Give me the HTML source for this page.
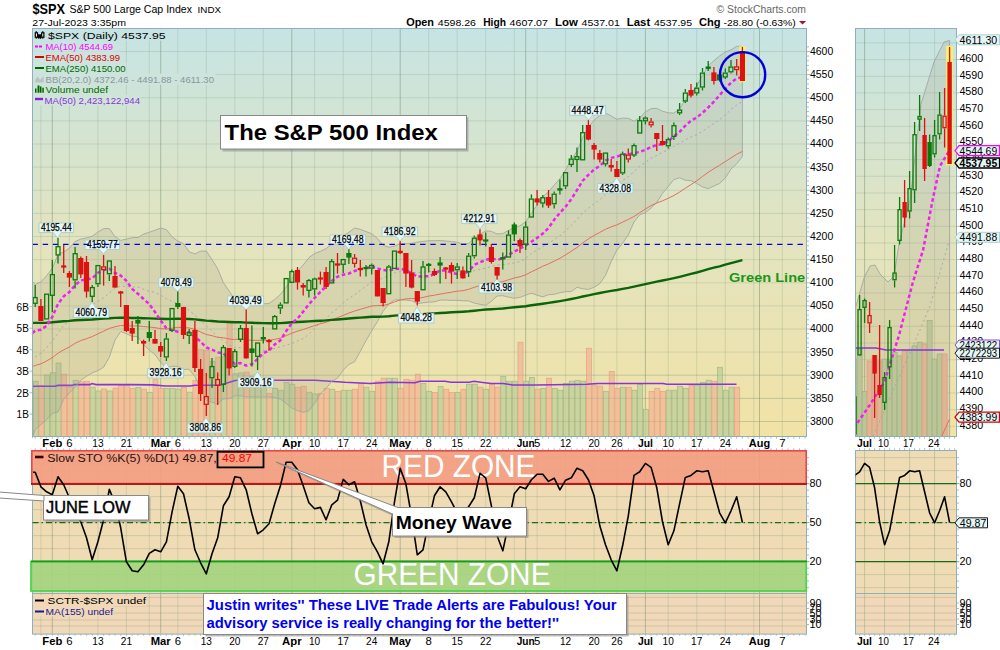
<!DOCTYPE html>
<html><head><meta charset="utf-8"><style>
html,body{margin:0;padding:0;background:#fff;width:1000px;height:650px;overflow:hidden}
svg{display:block;font-family:"Liberation Sans", sans-serif}
</style></head><body>
<svg width="1000" height="650" viewBox="0 0 1000 650">
<defs>
<linearGradient id="gmain" x1="0" y1="0" x2="0" y2="1">
<stop offset="0" stop-color="#c6e4e4"/><stop offset="0.5" stop-color="#e2e4c0"/><stop offset="1" stop-color="#f2e2a6"/>
</linearGradient>
<linearGradient id="gmainU" gradientUnits="userSpaceOnUse" x1="0" y1="28.5" x2="0" y2="436.5">
<stop offset="0" stop-color="#c6e4e4"/><stop offset="0.5" stop-color="#e2e4c0"/><stop offset="1" stop-color="#f2e2a6"/>
</linearGradient>
</defs>
<text x="32.5" y="13.7" font-size="14.5" font-weight="bold" textLength="32.5" lengthAdjust="spacingAndGlyphs">$SPX</text>
<text x="69.5" y="13.2" font-size="11" textLength="122.5" lengthAdjust="spacingAndGlyphs">S&amp;P 500 Large Cap Index</text>
<text x="197.6" y="13.2" font-size="9" textLength="23.4" lengthAdjust="spacingAndGlyphs">INDX</text>
<text x="32.3" y="26.3" font-size="9.6" textLength="93.7" lengthAdjust="spacingAndGlyphs">27-Jul-2023 3:35pm</text>
<text x="716.6" y="13.2" font-size="10" fill="#666" textLength="89.4" lengthAdjust="spacingAndGlyphs">© StockCharts.com</text>
<text x="406.2" y="25.5" font-size="10.2" font-weight="bold" textLength="27.8" lengthAdjust="spacingAndGlyphs">Open</text>
<text x="437.8" y="25.5" font-size="9.6" textLength="38.2" lengthAdjust="spacingAndGlyphs">4598.26</text>
<text x="483.2" y="25.5" font-size="10.2" font-weight="bold" textLength="22.8" lengthAdjust="spacingAndGlyphs">High</text>
<text x="509.6" y="25.5" font-size="9.6" textLength="38.3" lengthAdjust="spacingAndGlyphs">4607.07</text>
<text x="555" y="25.5" font-size="10.2" font-weight="bold" textLength="22.8" lengthAdjust="spacingAndGlyphs">Low</text>
<text x="581.5" y="25.5" font-size="9.6" textLength="38.3" lengthAdjust="spacingAndGlyphs">4537.01</text>
<text x="626.8" y="25.5" font-size="10.2" font-weight="bold" textLength="23.4" lengthAdjust="spacingAndGlyphs">Last</text>
<text x="654" y="25.5" font-size="9.6" textLength="38" lengthAdjust="spacingAndGlyphs">4537.95</text>
<text x="699" y="25.5" font-size="10.2" font-weight="bold" textLength="21.6" lengthAdjust="spacingAndGlyphs">Chg</text>
<text x="723.6" y="25.5" font-size="9.6" textLength="72.2" lengthAdjust="spacingAndGlyphs">-28.80 (-0.63%)</text>
<polygon points="799,21 806,21 802.5,24.5" fill="#a0103a"/>
<rect x="32.5" y="28.5" width="774.0" height="408.0" fill="url(#gmain)"/>
<line x1="32.5" y1="421.5" x2="806.5" y2="421.5" stroke="#7f9f7f" stroke-opacity="0.26"/>
<line x1="32.5" y1="398.4" x2="806.5" y2="398.4" stroke="#7f9f7f" stroke-opacity="0.26"/>
<line x1="32.5" y1="375.2" x2="806.5" y2="375.2" stroke="#7f9f7f" stroke-opacity="0.26"/>
<line x1="32.5" y1="352.1" x2="806.5" y2="352.1" stroke="#7f9f7f" stroke-opacity="0.26"/>
<line x1="32.5" y1="329.0" x2="806.5" y2="329.0" stroke="#7f9f7f" stroke-opacity="0.26"/>
<line x1="32.5" y1="305.9" x2="806.5" y2="305.9" stroke="#7f9f7f" stroke-opacity="0.26"/>
<line x1="32.5" y1="282.8" x2="806.5" y2="282.8" stroke="#7f9f7f" stroke-opacity="0.26"/>
<line x1="32.5" y1="259.6" x2="806.5" y2="259.6" stroke="#7f9f7f" stroke-opacity="0.26"/>
<line x1="32.5" y1="236.5" x2="806.5" y2="236.5" stroke="#7f9f7f" stroke-opacity="0.26"/>
<line x1="32.5" y1="213.4" x2="806.5" y2="213.4" stroke="#7f9f7f" stroke-opacity="0.26"/>
<line x1="32.5" y1="190.2" x2="806.5" y2="190.2" stroke="#7f9f7f" stroke-opacity="0.26"/>
<line x1="32.5" y1="167.1" x2="806.5" y2="167.1" stroke="#7f9f7f" stroke-opacity="0.26"/>
<line x1="32.5" y1="144.0" x2="806.5" y2="144.0" stroke="#7f9f7f" stroke-opacity="0.26"/>
<line x1="32.5" y1="120.9" x2="806.5" y2="120.9" stroke="#7f9f7f" stroke-opacity="0.26"/>
<line x1="32.5" y1="97.8" x2="806.5" y2="97.8" stroke="#7f9f7f" stroke-opacity="0.26"/>
<line x1="32.5" y1="74.6" x2="806.5" y2="74.6" stroke="#7f9f7f" stroke-opacity="0.26"/>
<line x1="32.5" y1="51.5" x2="806.5" y2="51.5" stroke="#7f9f7f" stroke-opacity="0.26"/>
<line x1="40.9" y1="28.5" x2="40.9" y2="436.5" stroke="#7f9f7f" stroke-opacity="0.26"/>
<line x1="69.4" y1="28.5" x2="69.4" y2="436.5" stroke="#7f9f7f" stroke-opacity="0.26"/>
<line x1="97.9" y1="28.5" x2="97.9" y2="436.5" stroke="#7f9f7f" stroke-opacity="0.26"/>
<line x1="126.4" y1="28.5" x2="126.4" y2="436.5" stroke="#7f9f7f" stroke-opacity="0.26"/>
<line x1="149.3" y1="28.5" x2="149.3" y2="436.5" stroke="#7f9f7f" stroke-opacity="0.26"/>
<line x1="177.8" y1="28.5" x2="177.8" y2="436.5" stroke="#7f9f7f" stroke-opacity="0.26"/>
<line x1="206.3" y1="28.5" x2="206.3" y2="436.5" stroke="#7f9f7f" stroke-opacity="0.26"/>
<line x1="234.8" y1="28.5" x2="234.8" y2="436.5" stroke="#7f9f7f" stroke-opacity="0.26"/>
<line x1="263.3" y1="28.5" x2="263.3" y2="436.5" stroke="#7f9f7f" stroke-opacity="0.26"/>
<line x1="314.6" y1="28.5" x2="314.6" y2="436.5" stroke="#7f9f7f" stroke-opacity="0.26"/>
<line x1="343.2" y1="28.5" x2="343.2" y2="436.5" stroke="#7f9f7f" stroke-opacity="0.26"/>
<line x1="371.7" y1="28.5" x2="371.7" y2="436.5" stroke="#7f9f7f" stroke-opacity="0.26"/>
<line x1="428.7" y1="28.5" x2="428.7" y2="436.5" stroke="#7f9f7f" stroke-opacity="0.26"/>
<line x1="457.2" y1="28.5" x2="457.2" y2="436.5" stroke="#7f9f7f" stroke-opacity="0.26"/>
<line x1="485.7" y1="28.5" x2="485.7" y2="436.5" stroke="#7f9f7f" stroke-opacity="0.26"/>
<line x1="514.3" y1="28.5" x2="514.3" y2="436.5" stroke="#7f9f7f" stroke-opacity="0.26"/>
<line x1="537.1" y1="28.5" x2="537.1" y2="436.5" stroke="#7f9f7f" stroke-opacity="0.26"/>
<line x1="565.6" y1="28.5" x2="565.6" y2="436.5" stroke="#7f9f7f" stroke-opacity="0.26"/>
<line x1="594.1" y1="28.5" x2="594.1" y2="436.5" stroke="#7f9f7f" stroke-opacity="0.26"/>
<line x1="616.9" y1="28.5" x2="616.9" y2="436.5" stroke="#7f9f7f" stroke-opacity="0.26"/>
<line x1="668.2" y1="28.5" x2="668.2" y2="436.5" stroke="#7f9f7f" stroke-opacity="0.26"/>
<line x1="696.7" y1="28.5" x2="696.7" y2="436.5" stroke="#7f9f7f" stroke-opacity="0.26"/>
<line x1="725.3" y1="28.5" x2="725.3" y2="436.5" stroke="#7f9f7f" stroke-opacity="0.26"/>
<line x1="753.8" y1="28.5" x2="753.8" y2="436.5" stroke="#7f9f7f" stroke-opacity="0.26"/>
<line x1="782.3" y1="28.5" x2="782.3" y2="436.5" stroke="#7f9f7f" stroke-opacity="0.26"/>
<line x1="52.3" y1="28.5" x2="52.3" y2="436.5" stroke="#5f7f5f" stroke-opacity="0.42"/>
<line x1="160.7" y1="28.5" x2="160.7" y2="436.5" stroke="#5f7f5f" stroke-opacity="0.42"/>
<line x1="291.8" y1="28.5" x2="291.8" y2="436.5" stroke="#5f7f5f" stroke-opacity="0.42"/>
<line x1="400.2" y1="28.5" x2="400.2" y2="436.5" stroke="#5f7f5f" stroke-opacity="0.42"/>
<line x1="525.7" y1="28.5" x2="525.7" y2="436.5" stroke="#5f7f5f" stroke-opacity="0.42"/>
<line x1="645.4" y1="28.5" x2="645.4" y2="436.5" stroke="#5f7f5f" stroke-opacity="0.42"/>
<line x1="759.5" y1="28.5" x2="759.5" y2="436.5" stroke="#5f7f5f" stroke-opacity="0.42"/>
<rect x="33.2" y="381.2" width="5.0" height="55.3" fill="#c4d09c" fill-opacity="0.85" stroke="#a0b880" stroke-width="0.7"/>
<rect x="38.9" y="385.4" width="5.0" height="51.1" fill="#f0bc98" fill-opacity="0.85" stroke="#e8a080" stroke-width="0.7"/>
<rect x="44.6" y="375.0" width="5.0" height="61.5" fill="#c4d09c" fill-opacity="0.85" stroke="#a0b880" stroke-width="0.7"/>
<rect x="50.3" y="372.8" width="5.0" height="63.7" fill="#c4d09c" fill-opacity="0.85" stroke="#a0b880" stroke-width="0.7"/>
<rect x="56.0" y="363.0" width="5.0" height="73.5" fill="#c4d09c" fill-opacity="0.85" stroke="#a0b880" stroke-width="0.7"/>
<rect x="61.7" y="374.2" width="5.0" height="62.3" fill="#f0bc98" fill-opacity="0.85" stroke="#e8a080" stroke-width="0.7"/>
<rect x="67.4" y="387.0" width="5.0" height="49.5" fill="#f0bc98" fill-opacity="0.85" stroke="#e8a080" stroke-width="0.7"/>
<rect x="73.1" y="380.3" width="5.0" height="56.2" fill="#c4d09c" fill-opacity="0.85" stroke="#a0b880" stroke-width="0.7"/>
<rect x="78.8" y="381.8" width="5.0" height="54.7" fill="#f0bc98" fill-opacity="0.85" stroke="#e8a080" stroke-width="0.7"/>
<rect x="84.5" y="381.2" width="5.0" height="55.3" fill="#f0bc98" fill-opacity="0.85" stroke="#e8a080" stroke-width="0.7"/>
<rect x="90.2" y="387.2" width="5.0" height="49.3" fill="#c4d09c" fill-opacity="0.85" stroke="#a0b880" stroke-width="0.7"/>
<rect x="95.9" y="391.0" width="5.0" height="45.5" fill="#c4d09c" fill-opacity="0.85" stroke="#a0b880" stroke-width="0.7"/>
<rect x="101.6" y="389.0" width="5.0" height="47.5" fill="#f0bc98" fill-opacity="0.85" stroke="#e8a080" stroke-width="0.7"/>
<rect x="107.3" y="391.0" width="5.0" height="45.5" fill="#c4d09c" fill-opacity="0.85" stroke="#a0b880" stroke-width="0.7"/>
<rect x="113.0" y="388.0" width="5.0" height="48.5" fill="#f0bc98" fill-opacity="0.85" stroke="#e8a080" stroke-width="0.7"/>
<rect x="118.7" y="385.0" width="5.0" height="51.5" fill="#f0bc98" fill-opacity="0.85" stroke="#e8a080" stroke-width="0.7"/>
<rect x="124.4" y="385.5" width="5.0" height="51.0" fill="#f0bc98" fill-opacity="0.85" stroke="#e8a080" stroke-width="0.7"/>
<rect x="130.2" y="388.4" width="5.0" height="48.1" fill="#f0bc98" fill-opacity="0.85" stroke="#e8a080" stroke-width="0.7"/>
<rect x="135.9" y="387.6" width="5.0" height="48.9" fill="#c4d09c" fill-opacity="0.85" stroke="#a0b880" stroke-width="0.7"/>
<rect x="141.6" y="389.1" width="5.0" height="47.4" fill="#f0bc98" fill-opacity="0.85" stroke="#e8a080" stroke-width="0.7"/>
<rect x="147.3" y="392.3" width="5.0" height="44.2" fill="#c4d09c" fill-opacity="0.85" stroke="#a0b880" stroke-width="0.7"/>
<rect x="153.0" y="379.2" width="5.0" height="57.3" fill="#f0bc98" fill-opacity="0.85" stroke="#e8a080" stroke-width="0.7"/>
<rect x="158.7" y="388.4" width="5.0" height="48.1" fill="#f0bc98" fill-opacity="0.85" stroke="#e8a080" stroke-width="0.7"/>
<rect x="164.4" y="388.4" width="5.0" height="48.1" fill="#c4d09c" fill-opacity="0.85" stroke="#a0b880" stroke-width="0.7"/>
<rect x="170.1" y="388.4" width="5.0" height="48.1" fill="#c4d09c" fill-opacity="0.85" stroke="#a0b880" stroke-width="0.7"/>
<rect x="175.8" y="389.1" width="5.0" height="47.4" fill="#c4d09c" fill-opacity="0.85" stroke="#a0b880" stroke-width="0.7"/>
<rect x="181.5" y="387.6" width="5.0" height="48.9" fill="#f0bc98" fill-opacity="0.85" stroke="#e8a080" stroke-width="0.7"/>
<rect x="187.2" y="392.2" width="5.0" height="44.3" fill="#c4d09c" fill-opacity="0.85" stroke="#a0b880" stroke-width="0.7"/>
<rect x="192.9" y="380.2" width="5.0" height="56.3" fill="#f0bc98" fill-opacity="0.85" stroke="#e8a080" stroke-width="0.7"/>
<rect x="198.6" y="349.8" width="5.0" height="86.7" fill="#f0bc98" fill-opacity="0.85" stroke="#e8a080" stroke-width="0.7"/>
<rect x="204.3" y="350.6" width="5.0" height="85.9" fill="#f0bc98" fill-opacity="0.85" stroke="#e8a080" stroke-width="0.7"/>
<rect x="210.0" y="361.3" width="5.0" height="75.2" fill="#c4d09c" fill-opacity="0.85" stroke="#a0b880" stroke-width="0.7"/>
<rect x="215.7" y="357.2" width="5.0" height="79.3" fill="#f0bc98" fill-opacity="0.85" stroke="#e8a080" stroke-width="0.7"/>
<rect x="221.4" y="356.8" width="5.0" height="79.7" fill="#c4d09c" fill-opacity="0.85" stroke="#a0b880" stroke-width="0.7"/>
<rect x="227.1" y="323.0" width="5.0" height="113.5" fill="#f0bc98" fill-opacity="0.85" stroke="#e8a080" stroke-width="0.7"/>
<rect x="232.8" y="373.8" width="5.0" height="62.7" fill="#c4d09c" fill-opacity="0.85" stroke="#a0b880" stroke-width="0.7"/>
<rect x="238.5" y="372.9" width="5.0" height="63.6" fill="#c4d09c" fill-opacity="0.85" stroke="#a0b880" stroke-width="0.7"/>
<rect x="244.2" y="372.0" width="5.0" height="64.5" fill="#f0bc98" fill-opacity="0.85" stroke="#e8a080" stroke-width="0.7"/>
<rect x="249.9" y="376.3" width="5.0" height="60.2" fill="#c4d09c" fill-opacity="0.85" stroke="#a0b880" stroke-width="0.7"/>
<rect x="255.6" y="374.6" width="5.0" height="61.9" fill="#c4d09c" fill-opacity="0.85" stroke="#a0b880" stroke-width="0.7"/>
<rect x="261.3" y="378.0" width="5.0" height="58.5" fill="#c4d09c" fill-opacity="0.85" stroke="#a0b880" stroke-width="0.7"/>
<rect x="267.0" y="393.3" width="5.0" height="43.2" fill="#f0bc98" fill-opacity="0.85" stroke="#e8a080" stroke-width="0.7"/>
<rect x="272.7" y="388.3" width="5.0" height="48.2" fill="#c4d09c" fill-opacity="0.85" stroke="#a0b880" stroke-width="0.7"/>
<rect x="278.4" y="390.2" width="5.0" height="46.3" fill="#c4d09c" fill-opacity="0.85" stroke="#a0b880" stroke-width="0.7"/>
<rect x="284.1" y="382.3" width="5.0" height="54.2" fill="#c4d09c" fill-opacity="0.85" stroke="#a0b880" stroke-width="0.7"/>
<rect x="289.8" y="384.2" width="5.0" height="52.3" fill="#c4d09c" fill-opacity="0.85" stroke="#a0b880" stroke-width="0.7"/>
<rect x="295.5" y="387.2" width="5.0" height="49.3" fill="#f0bc98" fill-opacity="0.85" stroke="#e8a080" stroke-width="0.7"/>
<rect x="301.2" y="386.2" width="5.0" height="50.3" fill="#f0bc98" fill-opacity="0.85" stroke="#e8a080" stroke-width="0.7"/>
<rect x="306.9" y="392.2" width="5.0" height="44.3" fill="#c4d09c" fill-opacity="0.85" stroke="#a0b880" stroke-width="0.7"/>
<rect x="312.6" y="394.0" width="5.0" height="42.5" fill="#c4d09c" fill-opacity="0.85" stroke="#a0b880" stroke-width="0.7"/>
<rect x="318.4" y="393.3" width="5.0" height="43.2" fill="#f0bc98" fill-opacity="0.85" stroke="#e8a080" stroke-width="0.7"/>
<rect x="324.1" y="388.3" width="5.0" height="48.2" fill="#f0bc98" fill-opacity="0.85" stroke="#e8a080" stroke-width="0.7"/>
<rect x="329.8" y="389.2" width="5.0" height="47.3" fill="#c4d09c" fill-opacity="0.85" stroke="#a0b880" stroke-width="0.7"/>
<rect x="335.5" y="391.3" width="5.0" height="45.2" fill="#f0bc98" fill-opacity="0.85" stroke="#e8a080" stroke-width="0.7"/>
<rect x="341.2" y="390.2" width="5.0" height="46.3" fill="#c4d09c" fill-opacity="0.85" stroke="#a0b880" stroke-width="0.7"/>
<rect x="346.9" y="390.2" width="5.0" height="46.3" fill="#c4d09c" fill-opacity="0.85" stroke="#a0b880" stroke-width="0.7"/>
<rect x="352.6" y="389.2" width="5.0" height="47.3" fill="#f0bc98" fill-opacity="0.85" stroke="#e8a080" stroke-width="0.7"/>
<rect x="358.3" y="383.5" width="5.0" height="53.0" fill="#f0bc98" fill-opacity="0.85" stroke="#e8a080" stroke-width="0.7"/>
<rect x="364.0" y="387.2" width="5.0" height="49.3" fill="#c4d09c" fill-opacity="0.85" stroke="#a0b880" stroke-width="0.7"/>
<rect x="369.7" y="391.3" width="5.0" height="45.2" fill="#c4d09c" fill-opacity="0.85" stroke="#a0b880" stroke-width="0.7"/>
<rect x="375.4" y="381.2" width="5.0" height="55.3" fill="#f0bc98" fill-opacity="0.85" stroke="#e8a080" stroke-width="0.7"/>
<rect x="381.1" y="378.2" width="5.0" height="58.3" fill="#f0bc98" fill-opacity="0.85" stroke="#e8a080" stroke-width="0.7"/>
<rect x="386.8" y="378.2" width="5.0" height="58.3" fill="#c4d09c" fill-opacity="0.85" stroke="#a0b880" stroke-width="0.7"/>
<rect x="392.5" y="378.2" width="5.0" height="58.3" fill="#c4d09c" fill-opacity="0.85" stroke="#a0b880" stroke-width="0.7"/>
<rect x="398.2" y="388.3" width="5.0" height="48.2" fill="#f0bc98" fill-opacity="0.85" stroke="#e8a080" stroke-width="0.7"/>
<rect x="403.9" y="379.3" width="5.0" height="57.2" fill="#f0bc98" fill-opacity="0.85" stroke="#e8a080" stroke-width="0.7"/>
<rect x="409.6" y="380.2" width="5.0" height="56.3" fill="#f0bc98" fill-opacity="0.85" stroke="#e8a080" stroke-width="0.7"/>
<rect x="415.3" y="374.2" width="5.0" height="62.3" fill="#f0bc98" fill-opacity="0.85" stroke="#e8a080" stroke-width="0.7"/>
<rect x="421.0" y="383.5" width="5.0" height="53.0" fill="#c4d09c" fill-opacity="0.85" stroke="#a0b880" stroke-width="0.7"/>
<rect x="426.7" y="391.3" width="5.0" height="45.2" fill="#c4d09c" fill-opacity="0.85" stroke="#a0b880" stroke-width="0.7"/>
<rect x="432.4" y="392.5" width="5.0" height="44.0" fill="#f0bc98" fill-opacity="0.85" stroke="#e8a080" stroke-width="0.7"/>
<rect x="438.1" y="386.5" width="5.0" height="50.0" fill="#c4d09c" fill-opacity="0.85" stroke="#a0b880" stroke-width="0.7"/>
<rect x="443.8" y="389.2" width="5.0" height="47.3" fill="#f0bc98" fill-opacity="0.85" stroke="#e8a080" stroke-width="0.7"/>
<rect x="449.5" y="392.5" width="5.0" height="44.0" fill="#f0bc98" fill-opacity="0.85" stroke="#e8a080" stroke-width="0.7"/>
<rect x="455.2" y="392.5" width="5.0" height="44.0" fill="#c4d09c" fill-opacity="0.85" stroke="#a0b880" stroke-width="0.7"/>
<rect x="460.9" y="389.2" width="5.0" height="47.3" fill="#f0bc98" fill-opacity="0.85" stroke="#e8a080" stroke-width="0.7"/>
<rect x="466.6" y="384.2" width="5.0" height="52.3" fill="#c4d09c" fill-opacity="0.85" stroke="#a0b880" stroke-width="0.7"/>
<rect x="472.3" y="384.2" width="5.0" height="52.3" fill="#c4d09c" fill-opacity="0.85" stroke="#a0b880" stroke-width="0.7"/>
<rect x="478.0" y="387.2" width="5.0" height="49.3" fill="#f0bc98" fill-opacity="0.85" stroke="#e8a080" stroke-width="0.7"/>
<rect x="483.7" y="389.2" width="5.0" height="47.3" fill="#c4d09c" fill-opacity="0.85" stroke="#a0b880" stroke-width="0.7"/>
<rect x="489.4" y="384.2" width="5.0" height="52.3" fill="#f0bc98" fill-opacity="0.85" stroke="#e8a080" stroke-width="0.7"/>
<rect x="495.1" y="387.2" width="5.0" height="49.3" fill="#f0bc98" fill-opacity="0.85" stroke="#e8a080" stroke-width="0.7"/>
<rect x="500.8" y="376.3" width="5.0" height="60.2" fill="#c4d09c" fill-opacity="0.85" stroke="#a0b880" stroke-width="0.7"/>
<rect x="506.5" y="381.2" width="5.0" height="55.3" fill="#c4d09c" fill-opacity="0.85" stroke="#a0b880" stroke-width="0.7"/>
<rect x="512.3" y="381.2" width="5.0" height="55.3" fill="#c4d09c" fill-opacity="0.85" stroke="#a0b880" stroke-width="0.7"/>
<rect x="518.0" y="342.2" width="5.0" height="94.3" fill="#f0bc98" fill-opacity="0.85" stroke="#e8a080" stroke-width="0.7"/>
<rect x="523.7" y="381.2" width="5.0" height="55.3" fill="#c4d09c" fill-opacity="0.85" stroke="#a0b880" stroke-width="0.7"/>
<rect x="529.4" y="377.5" width="5.0" height="59.0" fill="#c4d09c" fill-opacity="0.85" stroke="#a0b880" stroke-width="0.7"/>
<rect x="535.1" y="389.2" width="5.0" height="47.3" fill="#f0bc98" fill-opacity="0.85" stroke="#e8a080" stroke-width="0.7"/>
<rect x="540.8" y="388.3" width="5.0" height="48.2" fill="#c4d09c" fill-opacity="0.85" stroke="#a0b880" stroke-width="0.7"/>
<rect x="546.5" y="378.2" width="5.0" height="58.3" fill="#f0bc98" fill-opacity="0.85" stroke="#e8a080" stroke-width="0.7"/>
<rect x="552.2" y="388.3" width="5.0" height="48.2" fill="#c4d09c" fill-opacity="0.85" stroke="#a0b880" stroke-width="0.7"/>
<rect x="557.9" y="390.2" width="5.0" height="46.3" fill="#c4d09c" fill-opacity="0.85" stroke="#a0b880" stroke-width="0.7"/>
<rect x="563.6" y="383.5" width="5.0" height="53.0" fill="#c4d09c" fill-opacity="0.85" stroke="#a0b880" stroke-width="0.7"/>
<rect x="569.3" y="381.2" width="5.0" height="55.3" fill="#c4d09c" fill-opacity="0.85" stroke="#a0b880" stroke-width="0.7"/>
<rect x="575.0" y="380.5" width="5.0" height="56.0" fill="#c4d09c" fill-opacity="0.85" stroke="#a0b880" stroke-width="0.7"/>
<rect x="580.7" y="381.2" width="5.0" height="55.3" fill="#c4d09c" fill-opacity="0.85" stroke="#a0b880" stroke-width="0.7"/>
<rect x="586.4" y="348.2" width="5.0" height="88.3" fill="#f0bc98" fill-opacity="0.85" stroke="#e8a080" stroke-width="0.7"/>
<rect x="592.1" y="385.0" width="5.0" height="51.5" fill="#f0bc98" fill-opacity="0.85" stroke="#e8a080" stroke-width="0.7"/>
<rect x="597.8" y="386.2" width="5.0" height="50.3" fill="#f0bc98" fill-opacity="0.85" stroke="#e8a080" stroke-width="0.7"/>
<rect x="603.5" y="391.3" width="5.0" height="45.2" fill="#c4d09c" fill-opacity="0.85" stroke="#a0b880" stroke-width="0.7"/>
<rect x="609.2" y="371.5" width="5.0" height="65.0" fill="#f0bc98" fill-opacity="0.85" stroke="#e8a080" stroke-width="0.7"/>
<rect x="614.9" y="388.3" width="5.0" height="48.2" fill="#f0bc98" fill-opacity="0.85" stroke="#e8a080" stroke-width="0.7"/>
<rect x="620.6" y="387.2" width="5.0" height="49.3" fill="#c4d09c" fill-opacity="0.85" stroke="#a0b880" stroke-width="0.7"/>
<rect x="626.3" y="387.2" width="5.0" height="49.3" fill="#f0bc98" fill-opacity="0.85" stroke="#e8a080" stroke-width="0.7"/>
<rect x="632.0" y="390.2" width="5.0" height="46.3" fill="#c4d09c" fill-opacity="0.85" stroke="#a0b880" stroke-width="0.7"/>
<rect x="637.7" y="384.2" width="5.0" height="52.3" fill="#c4d09c" fill-opacity="0.85" stroke="#a0b880" stroke-width="0.7"/>
<rect x="643.4" y="409.3" width="5.0" height="27.2" fill="#c4d09c" fill-opacity="0.85" stroke="#a0b880" stroke-width="0.7"/>
<rect x="649.1" y="391.3" width="5.0" height="45.2" fill="#f0bc98" fill-opacity="0.85" stroke="#e8a080" stroke-width="0.7"/>
<rect x="654.8" y="388.3" width="5.0" height="48.2" fill="#f0bc98" fill-opacity="0.85" stroke="#e8a080" stroke-width="0.7"/>
<rect x="660.5" y="391.3" width="5.0" height="45.2" fill="#f0bc98" fill-opacity="0.85" stroke="#e8a080" stroke-width="0.7"/>
<rect x="666.2" y="390.2" width="5.0" height="46.3" fill="#c4d09c" fill-opacity="0.85" stroke="#a0b880" stroke-width="0.7"/>
<rect x="671.9" y="390.2" width="5.0" height="46.3" fill="#c4d09c" fill-opacity="0.85" stroke="#a0b880" stroke-width="0.7"/>
<rect x="677.6" y="386.2" width="5.0" height="50.3" fill="#c4d09c" fill-opacity="0.85" stroke="#a0b880" stroke-width="0.7"/>
<rect x="683.3" y="388.3" width="5.0" height="48.2" fill="#c4d09c" fill-opacity="0.85" stroke="#a0b880" stroke-width="0.7"/>
<rect x="689.0" y="385.3" width="5.0" height="51.2" fill="#f0bc98" fill-opacity="0.85" stroke="#e8a080" stroke-width="0.7"/>
<rect x="694.7" y="385.0" width="5.0" height="51.5" fill="#c4d09c" fill-opacity="0.85" stroke="#a0b880" stroke-width="0.7"/>
<rect x="700.5" y="382.3" width="5.0" height="54.2" fill="#c4d09c" fill-opacity="0.85" stroke="#a0b880" stroke-width="0.7"/>
<rect x="706.2" y="380.2" width="5.0" height="56.3" fill="#c4d09c" fill-opacity="0.85" stroke="#a0b880" stroke-width="0.7"/>
<rect x="711.9" y="381.2" width="5.0" height="55.3" fill="#f0bc98" fill-opacity="0.85" stroke="#e8a080" stroke-width="0.7"/>
<rect x="717.6" y="367.3" width="5.0" height="69.2" fill="#c4d09c" fill-opacity="0.85" stroke="#a0b880" stroke-width="0.7"/>
<rect x="723.3" y="390.2" width="5.0" height="46.3" fill="#c4d09c" fill-opacity="0.85" stroke="#a0b880" stroke-width="0.7"/>
<rect x="729.0" y="387.2" width="5.0" height="49.3" fill="#c4d09c" fill-opacity="0.85" stroke="#a0b880" stroke-width="0.7"/>
<rect x="734.7" y="387.2" width="5.0" height="49.3" fill="#f0bc98" fill-opacity="0.85" stroke="#e8a080" stroke-width="0.7"/>
<line x1="32.5" y1="421.5" x2="806.5" y2="421.5" stroke="#7f9f7f" stroke-opacity="0.2"/>
<line x1="32.5" y1="398.4" x2="806.5" y2="398.4" stroke="#7f9f7f" stroke-opacity="0.2"/>
<line x1="32.5" y1="375.2" x2="806.5" y2="375.2" stroke="#7f9f7f" stroke-opacity="0.2"/>
<polyline points="33,386.2 55,386.2 58,385.4 72,385.4 74,384.6 90,384.6 92,383.5 96,384.6 130,384.6 153,384.9 165,386 190,386 195,385.2 220,385.2 235,380.5 240,380.2 315,380.2 330,381.2 345,382.3 370,383.5 390,382.3 415,382.7 420,381.2 445,381.2 451,382.3 469,382.3 474,381.2 481,382.3 491,383.5 503,383.5 513,385 536,385 587,384.2 597,383.5 663,383.5 667,384.2 736.5,384.2" fill="none" stroke="#8833dd" stroke-width="1.6"/>
<polygon points="32.5,281.6 35.2,284.6 40.9,281.8 46.6,275.7 52.3,268.2 58.0,254.5 63.7,252.0 69.4,248.2 75.1,241.5 80.8,239.1 86.5,237.9 92.2,236.3 97.9,232.0 103.6,228.7 109.3,228.5 115.0,236.7 120.7,240.4 126.4,239.1 132.2,237.7 137.9,237.5 143.6,234.1 149.3,232.2 155.0,230.3 160.7,228.1 166.4,229.6 172.1,236.9 177.8,241.1 183.5,243.7 189.2,251.8 194.9,253.9 200.6,251.2 206.3,251.0 212.0,259.6 217.7,268.8 223.4,282.7 229.1,291.0 234.8,299.7 240.5,299.4 246.2,300.8 251.9,303.7 257.6,303.6 263.3,303.8 269.0,303.5 274.7,299.4 280.4,294.5 286.1,287.2 291.8,278.9 297.5,271.0 303.2,265.0 308.9,257.7 314.6,253.4 320.4,251.3 326.1,248.6 331.8,244.2 337.5,238.9 343.2,235.9 348.9,232.3 354.6,228.0 360.3,229.3 366.0,231.6 371.7,233.7 377.4,238.5 383.1,245.2 388.8,247.3 394.5,246.0 400.2,243.5 405.9,243.7 411.6,243.4 417.3,242.1 423.0,241.4 428.7,240.7 434.4,240.7 440.1,240.4 445.8,241.0 451.5,241.5 457.2,242.3 462.9,243.9 468.6,243.6 474.3,238.3 480.0,234.4 485.7,230.8 491.4,231.4 497.1,234.0 502.8,233.5 508.5,230.5 514.3,227.5 520.0,225.8 525.7,221.7 531.4,213.4 537.1,205.0 542.8,196.6 548.5,191.8 554.2,185.0 559.9,178.8 565.6,169.9 571.3,159.2 577.0,151.4 582.7,137.5 588.4,127.1 594.1,120.1 599.8,115.7 605.5,113.0 611.2,116.0 616.9,119.3 622.6,118.1 628.3,118.3 634.0,121.3 639.7,117.8 645.4,111.9 651.1,108.6 656.8,108.4 662.5,111.2 668.2,112.8 673.9,113.1 679.6,108.7 685.3,99.7 691.0,93.1 696.7,85.9 702.5,75.6 708.2,65.9 713.9,60.7 719.6,55.9 725.3,52.0 731.0,49.9 736.7,46.3 742.4,46.4 742.4,156.4 736.7,163.8 731.0,169.0 725.3,178.0 719.6,183.5 713.9,186.0 708.2,188.6 702.5,187.0 696.7,183.5 691.0,180.7 685.3,180.2 679.6,177.8 673.9,179.6 668.2,186.5 662.5,193.5 656.8,202.4 651.1,208.0 645.4,212.7 639.7,214.8 634.0,221.9 628.3,235.0 622.6,243.2 616.9,250.1 611.2,261.6 605.5,275.4 599.8,283.6 594.1,287.3 588.4,289.4 582.7,288.8 577.0,287.3 571.3,291.6 565.6,291.7 559.9,292.8 554.2,294.3 548.5,294.7 542.8,296.9 537.1,295.2 531.4,293.2 525.7,295.2 520.0,297.3 514.3,298.3 508.5,297.1 502.8,295.7 497.1,296.0 491.4,301.3 485.7,305.3 480.0,304.3 474.3,303.1 468.6,300.9 462.9,300.8 457.2,300.3 451.5,300.4 445.8,300.1 440.1,300.1 434.4,301.9 428.7,302.2 423.0,302.8 417.3,303.6 411.6,300.8 405.9,300.1 400.2,299.9 394.5,299.9 388.8,304.1 383.1,311.2 377.4,321.7 371.7,330.8 366.0,340.6 360.3,351.4 354.6,361.7 348.9,364.5 343.2,370.1 337.5,378.1 331.8,381.1 326.1,388.5 320.4,393.8 314.6,403.4 308.9,410.7 303.2,412.2 297.5,410.7 291.8,408.1 286.1,403.4 280.4,399.1 274.7,397.4 269.0,396.9 263.3,397.0 257.6,397.0 251.9,397.0 246.2,396.9 240.5,395.9 234.8,395.8 229.1,398.6 223.4,398.9 217.7,404.2 212.0,402.1 206.3,400.6 200.6,389.5 194.9,376.6 189.2,369.3 183.5,369.4 177.8,366.3 172.1,366.3 166.4,367.5 160.7,362.5 155.0,354.5 149.3,350.3 143.6,344.4 137.9,336.7 132.2,336.4 126.4,333.8 120.7,331.5 115.0,340.1 109.3,357.2 103.6,367.2 97.9,370.6 92.2,372.9 86.5,376.3 80.8,380.3 75.1,387.1 69.4,393.0 63.7,399.3 58.0,412.0 52.3,413.4 46.6,419.6 40.9,424.6 35.2,429.5 32.5,437.5" fill="#9a9c88" fill-opacity="0.2" stroke="#a0a8a0" stroke-width="0.9"/>
<polyline points="35.2,357.1 40.9,353.2 46.6,347.7 52.3,340.8 58.0,333.2 63.7,325.6 69.4,320.6 75.1,314.3 80.8,309.7 86.5,307.1 92.2,304.6 97.9,301.3 103.6,298.0 109.3,292.9 115.0,288.4 120.7,285.9 126.4,286.5 132.2,287.0 137.9,287.1 143.6,289.2 149.3,291.3 155.0,292.4 160.7,295.3 166.4,298.5 172.1,301.6 177.8,303.7 183.5,306.6 189.2,310.6 194.9,315.2 200.6,320.4 206.3,325.8 212.0,330.9 217.7,336.5 223.4,340.8 229.1,344.8 234.8,347.8 240.5,347.6 246.2,348.9 251.9,350.4 257.6,350.3 263.3,350.4 269.0,350.2 274.7,348.4 280.4,346.8 286.1,345.3 291.8,343.5 297.5,340.9 303.2,338.6 308.9,334.2 314.6,328.4 320.4,322.5 326.1,318.6 331.8,312.7 337.5,308.5 343.2,303.0 348.9,298.4 354.6,294.9 360.3,290.4 366.0,286.1 371.7,282.2 377.4,280.1 383.1,278.2 388.8,275.7 394.5,273.0 400.2,271.7 405.9,271.9 411.6,272.1 417.3,272.8 423.0,272.1 428.7,271.4 434.4,271.3 440.1,270.2 445.8,270.6 451.5,270.9 457.2,271.3 462.9,272.4 468.6,272.3 474.3,270.7 480.0,269.4 485.7,268.1 491.4,266.4 497.1,265.0 502.8,264.6 508.5,263.8 514.3,262.9 520.0,261.5 525.7,258.5 531.4,253.3 537.1,250.1 542.8,246.7 548.5,243.3 554.2,239.7 559.9,235.8 565.6,230.8 571.3,225.4 577.0,219.3 582.7,213.2 588.4,208.2 594.1,203.7 599.8,199.7 605.5,194.2 611.2,188.8 616.9,184.7 622.6,180.7 628.3,176.7 634.0,171.6 639.7,166.3 645.4,162.3 651.1,158.3 656.8,155.4 662.5,152.3 668.2,149.6 673.9,146.3 679.6,143.3 685.3,140.0 691.0,136.9 696.7,134.7 702.5,131.3 708.2,127.3 713.9,123.3 719.6,119.7 725.3,115.0 731.0,109.4 736.7,105.1 742.4,101.4" fill="none" stroke="#a8a8a8" stroke-width="1" stroke-dasharray="2,3"/>
<polyline points="32.5,366.5 35.2,365.5 40.9,363.8 46.6,361.0 52.3,357.6 58.0,353.2 63.7,349.8 69.4,347.0 75.1,343.3 80.8,340.6 86.5,338.7 92.2,336.6 97.9,333.8 103.6,331.2 109.3,328.4 115.0,326.8 120.7,325.5 126.4,325.7 132.2,326.0 137.9,325.9 143.6,326.6 149.3,327.0 155.0,327.7 160.7,328.6 166.4,329.0 172.1,328.2 177.8,327.3 183.5,327.6 189.2,327.9 194.9,329.4 200.6,332.0 206.3,334.5 212.0,335.7 217.7,337.4 223.4,337.8 229.1,339.0 234.8,339.5 240.5,339.0 246.2,339.8 251.9,340.3 257.6,340.4 263.3,340.3 269.0,340.3 274.7,339.4 280.4,338.1 286.1,335.7 291.8,333.2 297.5,331.2 303.2,329.5 308.9,327.5 314.6,325.6 320.4,323.7 326.1,322.3 331.8,319.9 337.5,317.7 343.2,315.4 348.9,313.1 354.6,311.0 360.3,309.3 366.0,307.7 371.7,306.0 377.4,305.6 383.1,305.5 388.8,304.0 394.5,301.9 400.2,300.0 405.9,298.9 411.6,298.5 417.3,298.6 423.0,297.4 428.7,296.1 434.4,295.2 440.1,294.1 445.8,293.1 451.5,292.2 457.2,291.2 462.9,290.7 468.6,289.3 474.3,287.3 480.0,285.5 485.7,283.7 491.4,282.8 497.1,282.5 502.8,281.6 508.5,279.8 514.3,278.0 520.0,276.7 525.7,274.8 531.4,271.8 537.1,269.1 542.8,266.2 548.5,263.9 554.2,261.1 559.9,258.3 565.6,254.9 571.3,251.2 577.0,247.5 582.7,242.9 588.4,238.9 594.1,235.4 599.8,232.4 605.5,229.3 611.2,226.9 616.9,224.9 622.6,222.1 628.3,219.4 634.0,216.5 639.7,212.7 645.4,209.0 651.1,205.6 656.8,203.0 662.5,200.8 668.2,198.3 673.9,195.5 679.6,192.1 685.3,188.2 691.0,184.6 696.7,180.8 702.5,176.5 708.2,172.3 713.9,168.7 719.6,165.2 725.3,161.6 731.0,157.9 736.7,154.3 742.4,151.4" fill="none" stroke="#e07060" stroke-width="1"/>
<polyline points="32.5,322.9 35.2,322.9 40.9,322.9 46.6,322.7 52.3,322.3 58.0,321.7 63.7,321.2 69.4,320.9 75.1,320.3 80.8,320.0 86.5,319.7 92.2,319.5 97.9,319.1 103.6,318.6 109.3,318.2 115.0,317.9 120.7,317.7 126.4,317.8 132.2,318.0 137.9,318.0 143.6,318.2 149.3,318.4 155.0,318.6 160.7,318.8 166.4,319.0 172.1,318.9 177.8,318.8 183.5,318.9 189.2,319.0 194.9,319.4 200.6,320.0 206.3,320.6 212.0,321.0 217.7,321.5 223.4,321.7 229.1,322.0 234.8,322.3 240.5,322.3 246.2,322.6 251.9,322.8 257.6,323.0 263.3,323.1 269.0,323.3 274.7,323.2 280.4,323.1 286.1,322.7 291.8,322.3 297.5,322.0 303.2,321.7 308.9,321.4 314.6,321.0 320.4,320.7 326.1,320.4 331.8,319.9 337.5,319.5 343.2,319.0 348.9,318.5 354.6,318.0 360.3,317.6 366.0,317.2 371.7,316.8 377.4,316.7 383.1,316.6 388.8,316.2 394.5,315.6 400.2,315.1 405.9,314.8 411.6,314.6 417.3,314.5 423.0,314.1 428.7,313.7 434.4,313.4 440.1,313.0 445.8,312.7 451.5,312.3 457.2,312.0 462.9,311.7 468.6,311.3 474.3,310.7 480.0,310.1 485.7,309.5 491.4,309.2 497.1,308.9 502.8,308.5 508.5,307.9 514.3,307.3 520.0,306.8 525.7,306.2 531.4,305.3 537.1,304.5 542.8,303.7 548.5,302.9 554.2,302.0 559.9,301.1 565.6,300.1 571.3,299.0 577.0,297.8 582.7,296.5 588.4,295.3 594.1,294.1 599.8,293.0 605.5,291.9 611.2,290.9 616.9,290.0 622.6,288.9 628.3,287.9 634.0,286.7 639.7,285.4 645.4,284.1 651.1,282.8 656.8,281.6 662.5,280.5 668.2,279.4 673.9,278.2 679.6,276.8 685.3,275.4 691.0,273.9 696.7,272.5 702.5,270.9 708.2,269.2 713.9,267.7 719.6,266.3 725.3,264.7 731.0,263.1 736.7,261.6 742.4,260.1" fill="none" stroke="#0a640a" stroke-width="2.4"/>
<rect x="739" y="46.4" width="6.8" height="35.8" fill="#f8f070"/>
<polyline points="32.5,333.2 35.2,330.7 40.9,329.8 46.6,325.8 52.3,317.0 58.0,303.9 63.7,296.3 69.4,292.0 75.1,285.2 80.8,280.4 86.5,279.4 92.2,278.4 97.9,272.8 103.6,270.1 109.3,268.8 115.0,272.9 120.7,275.5 126.4,280.9 132.2,288.9 137.9,293.8 143.6,299.0 149.3,304.1 155.0,312.0 160.7,320.5 166.4,328.3 172.1,330.3 177.8,331.8 183.5,332.2 189.2,332.2 194.9,336.6 200.6,341.7 206.3,347.5 212.0,349.7 217.7,352.4 223.4,353.3 229.1,359.3 234.8,363.7 240.5,363.0 246.2,365.6 251.9,364.1 257.6,358.9 263.3,353.3 269.0,350.7 274.7,344.4 280.4,340.3 286.1,331.2 291.8,323.2 297.5,318.7 303.2,311.6 308.9,304.3 314.6,297.9 320.4,291.8 326.1,286.4 331.8,280.9 337.5,276.7 343.2,274.8 348.9,273.5 354.6,271.0 360.3,269.1 366.0,267.9 371.7,266.6 377.4,268.4 383.1,270.0 388.8,270.6 394.5,269.2 400.2,268.6 405.9,270.2 411.6,273.2 417.3,276.5 423.0,276.4 428.7,276.3 434.4,274.1 440.1,270.4 445.8,270.6 451.5,272.7 457.2,274.0 462.9,274.5 468.6,271.3 474.3,264.9 480.0,262.3 485.7,259.9 491.4,258.6 497.1,259.6 502.8,258.7 508.5,254.9 514.3,251.7 520.0,248.5 525.7,245.6 531.4,241.7 537.1,237.9 542.8,233.6 548.5,228.0 554.2,219.8 559.9,212.9 565.6,206.7 571.3,199.1 577.0,190.1 582.7,180.7 588.4,174.8 594.1,169.5 599.8,165.8 605.5,160.5 611.2,157.9 616.9,156.5 622.6,154.7 628.3,154.3 634.0,153.1 639.7,151.9 645.4,149.8 651.1,147.0 656.8,145.0 662.5,144.2 668.2,141.4 673.9,136.2 679.6,131.9 685.3,125.7 691.0,120.7 696.7,117.5 702.5,112.9 708.2,107.5 713.9,101.7 719.6,95.2 725.3,88.6 731.0,82.7 736.7,78.3 742.4,77.2" fill="none" stroke="#ee22ee" stroke-width="2.5" stroke-dasharray="3.6,2.6"/>
<path d="M39,223 H73.6 V232.5 H61.4 L57.4,238 L53.4,232.5 H39 Z" fill="#e4f6f6" stroke="#a8cccc" stroke-width="0.9"/>
<text x="56.3" y="230.9" font-size="10.5" text-anchor="middle" textLength="30.599999999999994" lengthAdjust="spacingAndGlyphs" stroke="#000" stroke-width="0.25">4195.44</text>
<path d="M85,240 H119.6 V249.5 H107.4 L103.4,254 L99.4,249.5 H85 Z" fill="#e4f6f6" stroke="#a8cccc" stroke-width="0.9"/>
<text x="102.3" y="247.9" font-size="10.5" text-anchor="middle" textLength="30.599999999999994" lengthAdjust="spacingAndGlyphs" stroke="#000" stroke-width="0.25">4159.77</text>
<path d="M73.6,317.5 H109 V308 H96 L92,302 L88,308 H73.6 Z" fill="#e4f6f6" stroke="#a8cccc" stroke-width="0.9"/>
<text x="91.3" y="315.9" font-size="10.5" text-anchor="middle" textLength="31.400000000000006" lengthAdjust="spacingAndGlyphs" stroke="#000" stroke-width="0.25">4060.79</text>
<path d="M158.7,277.8 H193.8 V287.2 H181.4 L177.4,291.5 L173.4,287.2 H158.7 Z" fill="#e4f6f6" stroke="#a8cccc" stroke-width="0.9"/>
<text x="176.25" y="285.59999999999997" font-size="10.5" text-anchor="middle" textLength="31.100000000000023" lengthAdjust="spacingAndGlyphs" stroke="#000" stroke-width="0.25">4078.49</text>
<path d="M147.6,378 H183.6 V368.5 H170 L166,362.5 L162,368.5 H147.6 Z" fill="#e4f6f6" stroke="#a8cccc" stroke-width="0.9"/>
<text x="165.6" y="376.4" font-size="10.5" text-anchor="middle" textLength="32.0" lengthAdjust="spacingAndGlyphs" stroke="#000" stroke-width="0.25">3928.16</text>
<path d="M227.6,296 H263.6 V305.6 H250 L246,310 L242,305.6 H227.6 Z" fill="#e4f6f6" stroke="#a8cccc" stroke-width="0.9"/>
<text x="245.60000000000002" y="304.0" font-size="10.5" text-anchor="middle" textLength="32.00000000000003" lengthAdjust="spacingAndGlyphs" stroke="#000" stroke-width="0.25">4039.49</text>
<path d="M238,387.4 H273.6 V377.6 H261.4 L257.4,371.5 L253.39999999999998,377.6 H238 Z" fill="#e4f6f6" stroke="#a8cccc" stroke-width="0.9"/>
<text x="255.8" y="385.79999999999995" font-size="10.5" text-anchor="middle" textLength="31.600000000000023" lengthAdjust="spacingAndGlyphs" stroke="#000" stroke-width="0.25">3909.16</text>
<path d="M187.6,433 H223 V423.6 H210 L206,417.5 L202,423.6 H187.6 Z" fill="#e4f6f6" stroke="#a8cccc" stroke-width="0.9"/>
<text x="205.3" y="431.4" font-size="10.5" text-anchor="middle" textLength="31.400000000000006" lengthAdjust="spacingAndGlyphs" stroke="#000" stroke-width="0.25">3808.86</text>
<path d="M330,235 H365.6 V244.4 H352.6 L348.6,249.5 L344.6,244.4 H330 Z" fill="#e4f6f6" stroke="#a8cccc" stroke-width="0.9"/>
<text x="347.8" y="242.8" font-size="10.5" text-anchor="middle" textLength="31.600000000000023" lengthAdjust="spacingAndGlyphs" stroke="#000" stroke-width="0.25">4169.48</text>
<path d="M382,227 H417.6 V236.4 H404 L400,241.5 L396,236.4 H382 Z" fill="#e4f6f6" stroke="#a8cccc" stroke-width="0.9"/>
<text x="399.8" y="234.8" font-size="10.5" text-anchor="middle" textLength="31.600000000000023" lengthAdjust="spacingAndGlyphs" stroke="#000" stroke-width="0.25">4186.92</text>
<path d="M398.4,323 H434 V313.5 H421 L417,306.5 L413,313.5 H398.4 Z" fill="#e4f6f6" stroke="#a8cccc" stroke-width="0.9"/>
<text x="416.2" y="321.4" font-size="10.5" text-anchor="middle" textLength="31.600000000000023" lengthAdjust="spacingAndGlyphs" stroke="#000" stroke-width="0.25">4048.28</text>
<path d="M461.6,214 H497 V223.6 H484 L480,229 L476,223.6 H461.6 Z" fill="#e4f6f6" stroke="#a8cccc" stroke-width="0.9"/>
<text x="479.3" y="222.0" font-size="10.5" text-anchor="middle" textLength="31.399999999999977" lengthAdjust="spacingAndGlyphs" stroke="#000" stroke-width="0.25">4212.91</text>
<path d="M479,293 H514 V283.5 H501 L497,279 L493,283.5 H479 Z" fill="#e4f6f6" stroke="#a8cccc" stroke-width="0.9"/>
<text x="496.5" y="291.4" font-size="10.5" text-anchor="middle" textLength="31" lengthAdjust="spacingAndGlyphs" stroke="#000" stroke-width="0.25">4103.98</text>
<path d="M569.6,105.6 H605.6 V115.4 H592.4 L588.4,120 L584.4,115.4 H569.6 Z" fill="#e4f6f6" stroke="#a8cccc" stroke-width="0.9"/>
<text x="587.6" y="113.80000000000001" font-size="10.5" text-anchor="middle" textLength="32.0" lengthAdjust="spacingAndGlyphs" stroke="#000" stroke-width="0.25">4448.47</text>
<path d="M597.6,193.2 H633 V183.5 H620.6 L616.6,177.5 L612.6,183.5 H597.6 Z" fill="#e4f6f6" stroke="#a8cccc" stroke-width="0.9"/>
<text x="615.3" y="191.6" font-size="10.5" text-anchor="middle" textLength="31.399999999999977" lengthAdjust="spacingAndGlyphs" stroke="#000" stroke-width="0.25">4328.08</text>
<line x1="32.5" y1="244.4" x2="806.5" y2="244.4" stroke="#0000e0" stroke-width="1.3" stroke-dasharray="5.4,4.8"/>
<line x1="35.2" y1="285.0" x2="35.2" y2="297.0" stroke="#0a7a0a" stroke-width="1.3"/>
<line x1="35.2" y1="304.0" x2="35.2" y2="307.0" stroke="#0a7a0a" stroke-width="1.3"/>
<rect x="33.2" y="297.6" width="3.9" height="5.7" fill="none" stroke="#0a7a0a" stroke-width="1.3"/>
<line x1="40.9" y1="299.0" x2="40.9" y2="321.0" stroke="#dd1111" stroke-width="1.3"/>
<rect x="38.3" y="306.0" width="5.2" height="15.0" fill="#dd1111"/>
<line x1="46.6" y1="293.6" x2="46.6" y2="293.6" stroke="#0a7a0a" stroke-width="1.3"/>
<line x1="46.6" y1="319.6" x2="46.6" y2="319.6" stroke="#0a7a0a" stroke-width="1.3"/>
<rect x="44.7" y="294.2" width="3.9" height="24.7" fill="none" stroke="#0a7a0a" stroke-width="1.3"/>
<line x1="52.3" y1="260.0" x2="52.3" y2="274.0" stroke="#0a7a0a" stroke-width="1.3"/>
<line x1="52.3" y1="296.0" x2="52.3" y2="312.0" stroke="#0a7a0a" stroke-width="1.3"/>
<rect x="50.4" y="274.6" width="3.9" height="20.7" fill="none" stroke="#0a7a0a" stroke-width="1.3"/>
<line x1="58.0" y1="238.0" x2="58.0" y2="246.0" stroke="#0a7a0a" stroke-width="1.3"/>
<line x1="58.0" y1="255.6" x2="58.0" y2="263.6" stroke="#0a7a0a" stroke-width="1.3"/>
<rect x="56.1" y="246.7" width="3.9" height="8.3" fill="none" stroke="#0a7a0a" stroke-width="1.3"/>
<line x1="63.7" y1="245.0" x2="63.7" y2="273.0" stroke="#dd1111" stroke-width="1.3"/>
<rect x="61.1" y="265.4" width="5.2" height="2.2" fill="#dd1111"/>
<line x1="69.4" y1="271.0" x2="69.4" y2="287.0" stroke="#dd1111" stroke-width="1.3"/>
<rect x="66.8" y="273.0" width="5.2" height="4.6" fill="#dd1111"/>
<line x1="75.1" y1="247.0" x2="75.1" y2="253.0" stroke="#0a7a0a" stroke-width="1.3"/>
<line x1="75.1" y1="280.4" x2="75.1" y2="288.4" stroke="#0a7a0a" stroke-width="1.3"/>
<rect x="73.2" y="253.7" width="3.9" height="26.1" fill="none" stroke="#0a7a0a" stroke-width="1.3"/>
<line x1="80.8" y1="256.4" x2="80.8" y2="278.0" stroke="#dd1111" stroke-width="1.3"/>
<rect x="78.2" y="258.0" width="5.2" height="16.4" fill="#dd1111"/>
<line x1="86.5" y1="256.0" x2="86.5" y2="297.6" stroke="#dd1111" stroke-width="1.3"/>
<rect x="83.9" y="262.0" width="5.2" height="29.6" fill="#dd1111"/>
<line x1="92.2" y1="285.0" x2="92.2" y2="287.0" stroke="#0a7a0a" stroke-width="1.3"/>
<line x1="92.2" y1="297.0" x2="92.2" y2="302.0" stroke="#0a7a0a" stroke-width="1.3"/>
<rect x="90.3" y="287.6" width="3.9" height="8.7" fill="none" stroke="#0a7a0a" stroke-width="1.3"/>
<line x1="97.9" y1="265.0" x2="97.9" y2="265.0" stroke="#0a7a0a" stroke-width="1.3"/>
<line x1="97.9" y1="284.4" x2="97.9" y2="287.0" stroke="#0a7a0a" stroke-width="1.3"/>
<rect x="96.0" y="265.6" width="3.9" height="18.1" fill="none" stroke="#0a7a0a" stroke-width="1.3"/>
<line x1="103.6" y1="255.0" x2="103.6" y2="266.3" stroke="#dd1111" stroke-width="1.3"/>
<line x1="103.6" y1="270.3" x2="103.6" y2="285.6" stroke="#dd1111" stroke-width="1.3"/>
<rect x="101.7" y="266.9" width="3.9" height="2.7" fill="none" stroke="#dd1111" stroke-width="1.3"/>
<line x1="109.3" y1="260.4" x2="109.3" y2="260.4" stroke="#0a7a0a" stroke-width="1.3"/>
<line x1="109.3" y1="274.4" x2="109.3" y2="281.0" stroke="#0a7a0a" stroke-width="1.3"/>
<rect x="107.4" y="261.0" width="3.9" height="12.7" fill="none" stroke="#0a7a0a" stroke-width="1.3"/>
<line x1="115.0" y1="266.0" x2="115.0" y2="287.6" stroke="#dd1111" stroke-width="1.3"/>
<rect x="112.4" y="276.0" width="5.2" height="11.6" fill="#dd1111"/>
<line x1="120.7" y1="291.0" x2="120.7" y2="307.0" stroke="#dd1111" stroke-width="1.3"/>
<rect x="118.1" y="291.4" width="5.2" height="2.2" fill="#dd1111"/>
<line x1="126.4" y1="305.0" x2="126.4" y2="332.0" stroke="#dd1111" stroke-width="1.3"/>
<rect x="123.8" y="305.0" width="5.2" height="26.0" fill="#dd1111"/>
<line x1="132.2" y1="321.0" x2="132.2" y2="341.0" stroke="#dd1111" stroke-width="1.3"/>
<rect x="129.6" y="328.0" width="5.2" height="5.6" fill="#dd1111"/>
<line x1="137.9" y1="316.0" x2="137.9" y2="344.0" stroke="#0a7a0a" stroke-width="1.3"/>
<rect x="135.3" y="320.0" width="5.2" height="3.6" fill="#0a7a0a"/>
<line x1="143.6" y1="339.6" x2="143.6" y2="356.0" stroke="#dd1111" stroke-width="1.3"/>
<rect x="141.0" y="341.0" width="5.2" height="2.6" fill="#dd1111"/>
<line x1="149.3" y1="321.0" x2="149.3" y2="341.6" stroke="#0a7a0a" stroke-width="1.3"/>
<rect x="146.7" y="332.0" width="5.2" height="6.0" fill="#0a7a0a"/>
<line x1="155.0" y1="330.0" x2="155.0" y2="343.6" stroke="#dd1111" stroke-width="1.3"/>
<rect x="152.4" y="339.0" width="5.2" height="4.6" fill="#dd1111"/>
<line x1="160.7" y1="342.0" x2="160.7" y2="357.0" stroke="#dd1111" stroke-width="1.3"/>
<rect x="158.1" y="346.0" width="5.2" height="5.6" fill="#dd1111"/>
<line x1="166.4" y1="333.0" x2="166.4" y2="338.4" stroke="#0a7a0a" stroke-width="1.3"/>
<line x1="166.4" y1="357.6" x2="166.4" y2="361.0" stroke="#0a7a0a" stroke-width="1.3"/>
<rect x="164.4" y="339.0" width="3.9" height="17.9" fill="none" stroke="#0a7a0a" stroke-width="1.3"/>
<line x1="172.1" y1="308.0" x2="172.1" y2="308.0" stroke="#0a7a0a" stroke-width="1.3"/>
<line x1="172.1" y1="331.0" x2="172.1" y2="332.0" stroke="#0a7a0a" stroke-width="1.3"/>
<rect x="170.1" y="308.6" width="3.9" height="21.7" fill="none" stroke="#0a7a0a" stroke-width="1.3"/>
<line x1="177.8" y1="291.4" x2="177.8" y2="309.0" stroke="#0a7a0a" stroke-width="1.3"/>
<rect x="175.2" y="303.0" width="5.2" height="4.0" fill="#0a7a0a"/>
<line x1="183.5" y1="307.0" x2="183.5" y2="339.0" stroke="#dd1111" stroke-width="1.3"/>
<rect x="180.9" y="307.0" width="5.2" height="28.0" fill="#dd1111"/>
<line x1="189.2" y1="329.0" x2="189.2" y2="332.0" stroke="#0a7a0a" stroke-width="1.3"/>
<line x1="189.2" y1="336.0" x2="189.2" y2="344.0" stroke="#0a7a0a" stroke-width="1.3"/>
<rect x="187.2" y="332.6" width="3.9" height="2.7" fill="none" stroke="#0a7a0a" stroke-width="1.3"/>
<line x1="194.9" y1="321.0" x2="194.9" y2="372.0" stroke="#dd1111" stroke-width="1.3"/>
<rect x="192.3" y="330.0" width="5.2" height="38.0" fill="#dd1111"/>
<line x1="200.6" y1="359.0" x2="200.6" y2="401.0" stroke="#dd1111" stroke-width="1.3"/>
<rect x="198.0" y="369.0" width="5.2" height="25.0" fill="#dd1111"/>
<line x1="206.3" y1="373.0" x2="206.3" y2="396.0" stroke="#dd1111" stroke-width="1.3"/>
<line x1="206.3" y1="405.0" x2="206.3" y2="416.0" stroke="#dd1111" stroke-width="1.3"/>
<rect x="204.3" y="396.6" width="3.9" height="7.7" fill="none" stroke="#dd1111" stroke-width="1.3"/>
<line x1="212.0" y1="358.0" x2="212.0" y2="366.0" stroke="#0a7a0a" stroke-width="1.3"/>
<line x1="212.0" y1="378.4" x2="212.0" y2="388.0" stroke="#0a7a0a" stroke-width="1.3"/>
<rect x="210.0" y="366.6" width="3.9" height="11.1" fill="none" stroke="#0a7a0a" stroke-width="1.3"/>
<line x1="217.7" y1="372.4" x2="217.7" y2="379.0" stroke="#dd1111" stroke-width="1.3"/>
<line x1="217.7" y1="386.0" x2="217.7" y2="405.0" stroke="#dd1111" stroke-width="1.3"/>
<rect x="215.7" y="379.6" width="3.9" height="5.7" fill="none" stroke="#dd1111" stroke-width="1.3"/>
<line x1="223.4" y1="345.0" x2="223.4" y2="347.0" stroke="#0a7a0a" stroke-width="1.3"/>
<line x1="223.4" y1="385.0" x2="223.4" y2="392.0" stroke="#0a7a0a" stroke-width="1.3"/>
<rect x="221.4" y="347.6" width="3.9" height="36.7" fill="none" stroke="#0a7a0a" stroke-width="1.3"/>
<line x1="229.1" y1="348.0" x2="229.1" y2="375.6" stroke="#dd1111" stroke-width="1.3"/>
<rect x="226.5" y="348.0" width="5.2" height="20.4" fill="#dd1111"/>
<line x1="234.8" y1="349.0" x2="234.8" y2="351.0" stroke="#0a7a0a" stroke-width="1.3"/>
<line x1="234.8" y1="367.0" x2="234.8" y2="368.0" stroke="#0a7a0a" stroke-width="1.3"/>
<rect x="232.9" y="351.6" width="3.9" height="14.7" fill="none" stroke="#0a7a0a" stroke-width="1.3"/>
<line x1="240.5" y1="325.0" x2="240.5" y2="328.0" stroke="#0a7a0a" stroke-width="1.3"/>
<line x1="240.5" y1="340.0" x2="240.5" y2="342.0" stroke="#0a7a0a" stroke-width="1.3"/>
<rect x="238.6" y="328.6" width="3.9" height="10.7" fill="none" stroke="#0a7a0a" stroke-width="1.3"/>
<line x1="246.2" y1="309.5" x2="246.2" y2="358.4" stroke="#dd1111" stroke-width="1.3"/>
<rect x="243.6" y="328.0" width="5.2" height="30.4" fill="#dd1111"/>
<line x1="251.9" y1="325.6" x2="251.9" y2="366.4" stroke="#0a7a0a" stroke-width="1.3"/>
<rect x="249.3" y="348.4" width="5.2" height="4.6" fill="#0a7a0a"/>
<line x1="257.6" y1="342.4" x2="257.6" y2="342.4" stroke="#0a7a0a" stroke-width="1.3"/>
<line x1="257.6" y1="357.0" x2="257.6" y2="370.0" stroke="#0a7a0a" stroke-width="1.3"/>
<rect x="255.7" y="343.0" width="3.9" height="13.3" fill="none" stroke="#0a7a0a" stroke-width="1.3"/>
<line x1="263.3" y1="327.0" x2="263.3" y2="343.6" stroke="#0a7a0a" stroke-width="1.3"/>
<rect x="260.7" y="337.0" width="5.2" height="2.4" fill="#0a7a0a"/>
<line x1="269.0" y1="339.0" x2="269.0" y2="350.4" stroke="#dd1111" stroke-width="1.3"/>
<rect x="266.4" y="340.0" width="5.2" height="2.2" fill="#dd1111"/>
<line x1="274.7" y1="315.0" x2="274.7" y2="316.0" stroke="#0a7a0a" stroke-width="1.3"/>
<line x1="274.7" y1="329.6" x2="274.7" y2="329.6" stroke="#0a7a0a" stroke-width="1.3"/>
<rect x="272.8" y="316.6" width="3.9" height="12.3" fill="none" stroke="#0a7a0a" stroke-width="1.3"/>
<line x1="280.4" y1="302.4" x2="280.4" y2="304.6" stroke="#0a7a0a" stroke-width="1.3"/>
<line x1="280.4" y1="308.6" x2="280.4" y2="314.0" stroke="#0a7a0a" stroke-width="1.3"/>
<rect x="278.5" y="305.2" width="3.9" height="2.7" fill="none" stroke="#0a7a0a" stroke-width="1.3"/>
<line x1="286.1" y1="278.0" x2="286.1" y2="278.0" stroke="#0a7a0a" stroke-width="1.3"/>
<line x1="286.1" y1="303.6" x2="286.1" y2="303.6" stroke="#0a7a0a" stroke-width="1.3"/>
<rect x="284.2" y="278.6" width="3.9" height="24.3" fill="none" stroke="#0a7a0a" stroke-width="1.3"/>
<line x1="291.8" y1="269.6" x2="291.8" y2="271.0" stroke="#0a7a0a" stroke-width="1.3"/>
<line x1="291.8" y1="283.0" x2="291.8" y2="283.0" stroke="#0a7a0a" stroke-width="1.3"/>
<rect x="289.9" y="271.6" width="3.9" height="10.7" fill="none" stroke="#0a7a0a" stroke-width="1.3"/>
<line x1="297.5" y1="267.0" x2="297.5" y2="289.6" stroke="#dd1111" stroke-width="1.3"/>
<rect x="294.9" y="270.0" width="5.2" height="12.4" fill="#dd1111"/>
<line x1="303.2" y1="283.0" x2="303.2" y2="295.6" stroke="#dd1111" stroke-width="1.3"/>
<rect x="300.6" y="285.0" width="5.2" height="2.6" fill="#dd1111"/>
<line x1="308.9" y1="279.0" x2="308.9" y2="280.0" stroke="#0a7a0a" stroke-width="1.3"/>
<line x1="308.9" y1="291.0" x2="308.9" y2="297.6" stroke="#0a7a0a" stroke-width="1.3"/>
<rect x="307.0" y="280.6" width="3.9" height="9.7" fill="none" stroke="#0a7a0a" stroke-width="1.3"/>
<line x1="314.6" y1="277.6" x2="314.6" y2="278.4" stroke="#0a7a0a" stroke-width="1.3"/>
<line x1="314.6" y1="289.6" x2="314.6" y2="295.6" stroke="#0a7a0a" stroke-width="1.3"/>
<rect x="312.7" y="279.0" width="3.9" height="9.9" fill="none" stroke="#0a7a0a" stroke-width="1.3"/>
<line x1="320.4" y1="271.6" x2="320.4" y2="284.4" stroke="#dd1111" stroke-width="1.3"/>
<rect x="317.8" y="277.4" width="5.2" height="2.2" fill="#dd1111"/>
<line x1="326.1" y1="267.0" x2="326.1" y2="289.0" stroke="#dd1111" stroke-width="1.3"/>
<rect x="323.5" y="272.0" width="5.2" height="15.0" fill="#dd1111"/>
<line x1="331.8" y1="259.0" x2="331.8" y2="261.0" stroke="#0a7a0a" stroke-width="1.3"/>
<line x1="331.8" y1="283.6" x2="331.8" y2="283.6" stroke="#0a7a0a" stroke-width="1.3"/>
<rect x="329.8" y="261.6" width="3.9" height="21.3" fill="none" stroke="#0a7a0a" stroke-width="1.3"/>
<line x1="337.5" y1="253.0" x2="337.5" y2="273.6" stroke="#dd1111" stroke-width="1.3"/>
<rect x="334.9" y="263.4" width="5.2" height="2.2" fill="#dd1111"/>
<line x1="343.2" y1="259.0" x2="343.2" y2="259.0" stroke="#0a7a0a" stroke-width="1.3"/>
<line x1="343.2" y1="265.0" x2="343.2" y2="273.0" stroke="#0a7a0a" stroke-width="1.3"/>
<rect x="341.2" y="259.6" width="3.9" height="4.7" fill="none" stroke="#0a7a0a" stroke-width="1.3"/>
<line x1="348.9" y1="249.3" x2="348.9" y2="264.0" stroke="#0a7a0a" stroke-width="1.3"/>
<rect x="346.3" y="253.0" width="5.2" height="4.6" fill="#0a7a0a"/>
<line x1="354.6" y1="254.0" x2="354.6" y2="257.6" stroke="#dd1111" stroke-width="1.3"/>
<line x1="354.6" y1="264.0" x2="354.6" y2="267.6" stroke="#dd1111" stroke-width="1.3"/>
<rect x="352.6" y="258.2" width="3.9" height="5.1" fill="none" stroke="#dd1111" stroke-width="1.3"/>
<line x1="360.3" y1="260.0" x2="360.3" y2="276.4" stroke="#dd1111" stroke-width="1.3"/>
<rect x="357.7" y="268.0" width="5.2" height="2.2" fill="#dd1111"/>
<line x1="366.0" y1="265.0" x2="366.0" y2="276.4" stroke="#0a7a0a" stroke-width="1.3"/>
<rect x="363.4" y="267.0" width="5.2" height="2.2" fill="#0a7a0a"/>
<line x1="371.7" y1="263.6" x2="371.7" y2="264.8" stroke="#0a7a0a" stroke-width="1.3"/>
<line x1="371.7" y1="268.8" x2="371.7" y2="274.4" stroke="#0a7a0a" stroke-width="1.3"/>
<rect x="369.7" y="265.4" width="3.9" height="2.7" fill="none" stroke="#0a7a0a" stroke-width="1.3"/>
<line x1="377.4" y1="270.0" x2="377.4" y2="296.4" stroke="#dd1111" stroke-width="1.3"/>
<rect x="374.8" y="270.0" width="5.2" height="26.4" fill="#dd1111"/>
<line x1="383.1" y1="288.0" x2="383.1" y2="306.4" stroke="#dd1111" stroke-width="1.3"/>
<rect x="380.5" y="288.0" width="5.2" height="15.0" fill="#dd1111"/>
<line x1="388.8" y1="265.0" x2="388.8" y2="266.4" stroke="#0a7a0a" stroke-width="1.3"/>
<line x1="388.8" y1="294.4" x2="388.8" y2="294.4" stroke="#0a7a0a" stroke-width="1.3"/>
<rect x="386.8" y="267.0" width="3.9" height="26.7" fill="none" stroke="#0a7a0a" stroke-width="1.3"/>
<line x1="394.5" y1="250.4" x2="394.5" y2="250.4" stroke="#0a7a0a" stroke-width="1.3"/>
<line x1="394.5" y1="269.0" x2="394.5" y2="269.0" stroke="#0a7a0a" stroke-width="1.3"/>
<rect x="392.5" y="251.1" width="3.9" height="17.3" fill="none" stroke="#0a7a0a" stroke-width="1.3"/>
<line x1="400.2" y1="241.3" x2="400.2" y2="254.0" stroke="#dd1111" stroke-width="1.3"/>
<rect x="397.6" y="250.8" width="5.2" height="2.4" fill="#dd1111"/>
<line x1="405.9" y1="253.0" x2="405.9" y2="287.0" stroke="#dd1111" stroke-width="1.3"/>
<rect x="403.3" y="253.0" width="5.2" height="20.6" fill="#dd1111"/>
<line x1="411.6" y1="260.0" x2="411.6" y2="288.4" stroke="#dd1111" stroke-width="1.3"/>
<rect x="409.0" y="272.4" width="5.2" height="15.2" fill="#dd1111"/>
<line x1="417.3" y1="291.0" x2="417.3" y2="305.4" stroke="#dd1111" stroke-width="1.3"/>
<rect x="414.7" y="291.0" width="5.2" height="10.6" fill="#dd1111"/>
<line x1="423.0" y1="261.0" x2="423.0" y2="266.4" stroke="#0a7a0a" stroke-width="1.3"/>
<line x1="423.0" y1="290.4" x2="423.0" y2="290.4" stroke="#0a7a0a" stroke-width="1.3"/>
<rect x="421.1" y="267.0" width="3.9" height="22.7" fill="none" stroke="#0a7a0a" stroke-width="1.3"/>
<line x1="428.7" y1="263.0" x2="428.7" y2="272.4" stroke="#0a7a0a" stroke-width="1.3"/>
<rect x="426.1" y="263.8" width="5.2" height="2.2" fill="#0a7a0a"/>
<line x1="434.4" y1="268.4" x2="434.4" y2="276.0" stroke="#dd1111" stroke-width="1.3"/>
<rect x="431.8" y="271.0" width="5.2" height="4.0" fill="#dd1111"/>
<line x1="440.1" y1="257.0" x2="440.1" y2="283.6" stroke="#0a7a0a" stroke-width="1.3"/>
<rect x="437.5" y="262.4" width="5.2" height="3.2" fill="#0a7a0a"/>
<line x1="445.8" y1="267.0" x2="445.8" y2="279.0" stroke="#dd1111" stroke-width="1.3"/>
<rect x="443.2" y="267.4" width="5.2" height="2.2" fill="#dd1111"/>
<line x1="451.5" y1="262.4" x2="451.5" y2="283.6" stroke="#dd1111" stroke-width="1.3"/>
<rect x="448.9" y="265.0" width="5.2" height="6.6" fill="#dd1111"/>
<line x1="457.2" y1="263.0" x2="457.2" y2="266.4" stroke="#0a7a0a" stroke-width="1.3"/>
<line x1="457.2" y1="270.4" x2="457.2" y2="279.0" stroke="#0a7a0a" stroke-width="1.3"/>
<rect x="455.3" y="267.0" width="3.9" height="2.7" fill="none" stroke="#0a7a0a" stroke-width="1.3"/>
<line x1="462.9" y1="266.4" x2="462.9" y2="278.4" stroke="#dd1111" stroke-width="1.3"/>
<rect x="460.3" y="270.4" width="5.2" height="8.0" fill="#dd1111"/>
<line x1="468.6" y1="253.0" x2="468.6" y2="255.6" stroke="#0a7a0a" stroke-width="1.3"/>
<line x1="468.6" y1="272.4" x2="468.6" y2="277.0" stroke="#0a7a0a" stroke-width="1.3"/>
<rect x="466.7" y="256.2" width="3.9" height="15.5" fill="none" stroke="#0a7a0a" stroke-width="1.3"/>
<line x1="474.3" y1="235.6" x2="474.3" y2="237.6" stroke="#0a7a0a" stroke-width="1.3"/>
<line x1="474.3" y1="256.4" x2="474.3" y2="258.4" stroke="#0a7a0a" stroke-width="1.3"/>
<rect x="472.4" y="238.2" width="3.9" height="17.5" fill="none" stroke="#0a7a0a" stroke-width="1.3"/>
<line x1="480.0" y1="229.2" x2="480.0" y2="245.6" stroke="#dd1111" stroke-width="1.3"/>
<rect x="477.4" y="234.4" width="5.2" height="6.0" fill="#dd1111"/>
<line x1="485.7" y1="232.4" x2="485.7" y2="246.4" stroke="#0a7a0a" stroke-width="1.3"/>
<rect x="483.1" y="239.4" width="5.2" height="2.2" fill="#0a7a0a"/>
<line x1="491.4" y1="244.0" x2="491.4" y2="263.6" stroke="#dd1111" stroke-width="1.3"/>
<rect x="488.8" y="247.0" width="5.2" height="15.0" fill="#dd1111"/>
<line x1="497.1" y1="267.0" x2="497.1" y2="279.6" stroke="#dd1111" stroke-width="1.3"/>
<rect x="494.5" y="267.0" width="5.2" height="8.6" fill="#dd1111"/>
<line x1="502.8" y1="252.4" x2="502.8" y2="269.6" stroke="#0a7a0a" stroke-width="1.3"/>
<rect x="500.2" y="257.1" width="5.2" height="2.4" fill="#0a7a0a"/>
<line x1="508.5" y1="230.4" x2="508.5" y2="234.4" stroke="#0a7a0a" stroke-width="1.3"/>
<line x1="508.5" y1="257.6" x2="508.5" y2="257.6" stroke="#0a7a0a" stroke-width="1.3"/>
<rect x="506.6" y="235.1" width="3.9" height="21.9" fill="none" stroke="#0a7a0a" stroke-width="1.3"/>
<line x1="514.3" y1="222.4" x2="514.3" y2="241.0" stroke="#0a7a0a" stroke-width="1.3"/>
<rect x="511.7" y="224.4" width="5.2" height="10.0" fill="#0a7a0a"/>
<line x1="520.0" y1="238.4" x2="520.0" y2="253.0" stroke="#dd1111" stroke-width="1.3"/>
<rect x="517.4" y="240.0" width="5.2" height="6.4" fill="#dd1111"/>
<line x1="525.7" y1="221.6" x2="525.7" y2="226.4" stroke="#0a7a0a" stroke-width="1.3"/>
<line x1="525.7" y1="245.0" x2="525.7" y2="250.0" stroke="#0a7a0a" stroke-width="1.3"/>
<rect x="523.7" y="227.1" width="3.9" height="17.3" fill="none" stroke="#0a7a0a" stroke-width="1.3"/>
<line x1="531.4" y1="194.4" x2="531.4" y2="198.4" stroke="#0a7a0a" stroke-width="1.3"/>
<line x1="531.4" y1="217.6" x2="531.4" y2="217.6" stroke="#0a7a0a" stroke-width="1.3"/>
<rect x="529.4" y="199.1" width="3.9" height="17.9" fill="none" stroke="#0a7a0a" stroke-width="1.3"/>
<line x1="537.1" y1="190.0" x2="537.1" y2="205.6" stroke="#dd1111" stroke-width="1.3"/>
<rect x="534.5" y="198.4" width="5.2" height="4.0" fill="#dd1111"/>
<line x1="542.8" y1="195.0" x2="542.8" y2="197.0" stroke="#0a7a0a" stroke-width="1.3"/>
<line x1="542.8" y1="203.6" x2="542.8" y2="207.6" stroke="#0a7a0a" stroke-width="1.3"/>
<rect x="540.8" y="197.7" width="3.9" height="5.3" fill="none" stroke="#0a7a0a" stroke-width="1.3"/>
<line x1="548.5" y1="190.0" x2="548.5" y2="208.0" stroke="#dd1111" stroke-width="1.3"/>
<rect x="545.9" y="197.0" width="5.2" height="8.6" fill="#dd1111"/>
<line x1="554.2" y1="191.6" x2="554.2" y2="193.6" stroke="#0a7a0a" stroke-width="1.3"/>
<line x1="554.2" y1="204.4" x2="554.2" y2="208.4" stroke="#0a7a0a" stroke-width="1.3"/>
<rect x="552.2" y="194.2" width="3.9" height="9.5" fill="none" stroke="#0a7a0a" stroke-width="1.3"/>
<line x1="559.9" y1="179.6" x2="559.9" y2="194.4" stroke="#0a7a0a" stroke-width="1.3"/>
<rect x="557.3" y="188.2" width="5.2" height="2.4" fill="#0a7a0a"/>
<line x1="565.6" y1="172.0" x2="565.6" y2="172.0" stroke="#0a7a0a" stroke-width="1.3"/>
<line x1="565.6" y1="186.4" x2="565.6" y2="189.0" stroke="#0a7a0a" stroke-width="1.3"/>
<rect x="563.6" y="172.7" width="3.9" height="13.1" fill="none" stroke="#0a7a0a" stroke-width="1.3"/>
<line x1="571.3" y1="155.0" x2="571.3" y2="158.4" stroke="#0a7a0a" stroke-width="1.3"/>
<line x1="571.3" y1="165.0" x2="571.3" y2="167.0" stroke="#0a7a0a" stroke-width="1.3"/>
<rect x="569.3" y="159.1" width="3.9" height="5.3" fill="none" stroke="#0a7a0a" stroke-width="1.3"/>
<line x1="577.0" y1="147.6" x2="577.0" y2="156.0" stroke="#0a7a0a" stroke-width="1.3"/>
<line x1="577.0" y1="160.0" x2="577.0" y2="172.0" stroke="#0a7a0a" stroke-width="1.3"/>
<rect x="575.0" y="156.7" width="3.9" height="2.7" fill="none" stroke="#0a7a0a" stroke-width="1.3"/>
<line x1="582.7" y1="125.0" x2="582.7" y2="132.0" stroke="#0a7a0a" stroke-width="1.3"/>
<line x1="582.7" y1="160.4" x2="582.7" y2="160.4" stroke="#0a7a0a" stroke-width="1.3"/>
<rect x="580.7" y="132.7" width="3.9" height="27.1" fill="none" stroke="#0a7a0a" stroke-width="1.3"/>
<line x1="588.4" y1="120.2" x2="588.4" y2="140.4" stroke="#dd1111" stroke-width="1.3"/>
<rect x="585.8" y="125.0" width="5.2" height="14.6" fill="#dd1111"/>
<line x1="594.1" y1="143.0" x2="594.1" y2="159.6" stroke="#dd1111" stroke-width="1.3"/>
<rect x="591.5" y="145.0" width="5.2" height="4.6" fill="#dd1111"/>
<line x1="599.8" y1="150.0" x2="599.8" y2="162.4" stroke="#dd1111" stroke-width="1.3"/>
<rect x="597.2" y="153.0" width="5.2" height="6.6" fill="#dd1111"/>
<line x1="605.5" y1="152.4" x2="605.5" y2="152.4" stroke="#0a7a0a" stroke-width="1.3"/>
<line x1="605.5" y1="164.4" x2="605.5" y2="166.4" stroke="#0a7a0a" stroke-width="1.3"/>
<rect x="603.6" y="153.1" width="3.9" height="10.7" fill="none" stroke="#0a7a0a" stroke-width="1.3"/>
<line x1="611.2" y1="159.0" x2="611.2" y2="171.6" stroke="#dd1111" stroke-width="1.3"/>
<rect x="608.6" y="165.0" width="5.2" height="2.6" fill="#dd1111"/>
<line x1="616.9" y1="161.0" x2="616.9" y2="177.0" stroke="#dd1111" stroke-width="1.3"/>
<rect x="614.3" y="169.0" width="5.2" height="8.0" fill="#dd1111"/>
<line x1="622.6" y1="151.6" x2="622.6" y2="153.6" stroke="#0a7a0a" stroke-width="1.3"/>
<line x1="622.6" y1="173.6" x2="622.6" y2="175.0" stroke="#0a7a0a" stroke-width="1.3"/>
<rect x="620.7" y="154.2" width="3.9" height="18.7" fill="none" stroke="#0a7a0a" stroke-width="1.3"/>
<line x1="628.3" y1="148.4" x2="628.3" y2="154.4" stroke="#dd1111" stroke-width="1.3"/>
<line x1="628.3" y1="159.6" x2="628.3" y2="162.4" stroke="#dd1111" stroke-width="1.3"/>
<rect x="626.4" y="155.1" width="3.9" height="3.9" fill="none" stroke="#dd1111" stroke-width="1.3"/>
<line x1="634.0" y1="143.6" x2="634.0" y2="145.0" stroke="#0a7a0a" stroke-width="1.3"/>
<line x1="634.0" y1="155.6" x2="634.0" y2="157.0" stroke="#0a7a0a" stroke-width="1.3"/>
<rect x="632.1" y="145.7" width="3.9" height="9.3" fill="none" stroke="#0a7a0a" stroke-width="1.3"/>
<line x1="639.7" y1="116.0" x2="639.7" y2="120.0" stroke="#0a7a0a" stroke-width="1.3"/>
<line x1="639.7" y1="133.6" x2="639.7" y2="133.6" stroke="#0a7a0a" stroke-width="1.3"/>
<rect x="637.8" y="120.7" width="3.9" height="12.3" fill="none" stroke="#0a7a0a" stroke-width="1.3"/>
<line x1="645.4" y1="116.4" x2="645.4" y2="117.4" stroke="#0a7a0a" stroke-width="1.3"/>
<line x1="645.4" y1="121.4" x2="645.4" y2="124.4" stroke="#0a7a0a" stroke-width="1.3"/>
<rect x="643.5" y="118.1" width="3.9" height="2.7" fill="none" stroke="#0a7a0a" stroke-width="1.3"/>
<line x1="651.1" y1="118.0" x2="651.1" y2="121.4" stroke="#dd1111" stroke-width="1.3"/>
<line x1="651.1" y1="125.4" x2="651.1" y2="127.6" stroke="#dd1111" stroke-width="1.3"/>
<rect x="649.2" y="122.1" width="3.9" height="2.7" fill="none" stroke="#dd1111" stroke-width="1.3"/>
<line x1="656.8" y1="133.0" x2="656.8" y2="151.0" stroke="#dd1111" stroke-width="1.3"/>
<rect x="654.2" y="133.0" width="5.2" height="6.0" fill="#dd1111"/>
<line x1="662.5" y1="125.0" x2="662.5" y2="145.6" stroke="#dd1111" stroke-width="1.3"/>
<rect x="659.9" y="141.0" width="5.2" height="4.0" fill="#dd1111"/>
<line x1="668.2" y1="137.6" x2="668.2" y2="139.0" stroke="#0a7a0a" stroke-width="1.3"/>
<line x1="668.2" y1="146.4" x2="668.2" y2="148.4" stroke="#0a7a0a" stroke-width="1.3"/>
<rect x="666.3" y="139.7" width="3.9" height="6.1" fill="none" stroke="#0a7a0a" stroke-width="1.3"/>
<line x1="673.9" y1="122.4" x2="673.9" y2="125.0" stroke="#0a7a0a" stroke-width="1.3"/>
<line x1="673.9" y1="137.0" x2="673.9" y2="140.0" stroke="#0a7a0a" stroke-width="1.3"/>
<rect x="672.0" y="125.7" width="3.9" height="10.7" fill="none" stroke="#0a7a0a" stroke-width="1.3"/>
<line x1="679.6" y1="103.0" x2="679.6" y2="109.4" stroke="#0a7a0a" stroke-width="1.3"/>
<line x1="679.6" y1="113.4" x2="679.6" y2="115.0" stroke="#0a7a0a" stroke-width="1.3"/>
<rect x="677.7" y="110.1" width="3.9" height="2.7" fill="none" stroke="#0a7a0a" stroke-width="1.3"/>
<line x1="685.3" y1="89.0" x2="685.3" y2="92.4" stroke="#0a7a0a" stroke-width="1.3"/>
<line x1="685.3" y1="101.6" x2="685.3" y2="103.0" stroke="#0a7a0a" stroke-width="1.3"/>
<rect x="683.4" y="93.1" width="3.9" height="7.9" fill="none" stroke="#0a7a0a" stroke-width="1.3"/>
<line x1="691.0" y1="84.0" x2="691.0" y2="97.6" stroke="#dd1111" stroke-width="1.3"/>
<rect x="688.4" y="90.0" width="5.2" height="5.6" fill="#dd1111"/>
<line x1="696.7" y1="82.4" x2="696.7" y2="87.6" stroke="#0a7a0a" stroke-width="1.3"/>
<line x1="696.7" y1="93.6" x2="696.7" y2="95.6" stroke="#0a7a0a" stroke-width="1.3"/>
<rect x="694.8" y="88.2" width="3.9" height="4.7" fill="none" stroke="#0a7a0a" stroke-width="1.3"/>
<line x1="702.5" y1="68.0" x2="702.5" y2="72.4" stroke="#0a7a0a" stroke-width="1.3"/>
<line x1="702.5" y1="87.6" x2="702.5" y2="90.4" stroke="#0a7a0a" stroke-width="1.3"/>
<rect x="700.5" y="73.1" width="3.9" height="13.9" fill="none" stroke="#0a7a0a" stroke-width="1.3"/>
<line x1="708.2" y1="61.0" x2="708.2" y2="71.0" stroke="#0a7a0a" stroke-width="1.3"/>
<rect x="705.6" y="66.5" width="5.2" height="2.4" fill="#0a7a0a"/>
<line x1="713.9" y1="67.0" x2="713.9" y2="84.4" stroke="#dd1111" stroke-width="1.3"/>
<rect x="711.3" y="72.4" width="5.2" height="8.6" fill="#dd1111"/>
<line x1="719.6" y1="74.4" x2="719.6" y2="81.6" stroke="#0a7a0a" stroke-width="1.3"/>
<rect x="717.0" y="74.4" width="5.2" height="6.0" fill="#0a7a0a"/>
<line x1="725.3" y1="68.4" x2="725.3" y2="72.4" stroke="#0a7a0a" stroke-width="1.3"/>
<line x1="725.3" y1="77.6" x2="725.3" y2="79.0" stroke="#0a7a0a" stroke-width="1.3"/>
<rect x="723.3" y="73.1" width="3.9" height="3.9" fill="none" stroke="#0a7a0a" stroke-width="1.3"/>
<line x1="731.0" y1="60.0" x2="731.0" y2="66.4" stroke="#0a7a0a" stroke-width="1.3"/>
<line x1="731.0" y1="72.4" x2="731.0" y2="73.6" stroke="#0a7a0a" stroke-width="1.3"/>
<rect x="729.0" y="67.1" width="3.9" height="4.7" fill="none" stroke="#0a7a0a" stroke-width="1.3"/>
<line x1="736.7" y1="59.0" x2="736.7" y2="66.2" stroke="#dd1111" stroke-width="1.3"/>
<line x1="736.7" y1="70.2" x2="736.7" y2="75.6" stroke="#dd1111" stroke-width="1.3"/>
<rect x="734.7" y="66.9" width="3.9" height="2.7" fill="none" stroke="#dd1111" stroke-width="1.3"/>
<line x1="742.4" y1="47.0" x2="742.4" y2="81.0" stroke="#dd1111" stroke-width="1.3"/>
<rect x="739.8" y="51.0" width="5.2" height="30.0" fill="#dd1111"/>
<circle cx="742.6" cy="74.7" r="22.6" fill="none" stroke="#0000dd" stroke-width="2.4"/>
<rect x="32.5" y="28.5" width="774.0" height="408.0" fill="none" stroke="#8fb0b8" stroke-width="1"/>
<rect x="33" y="29.3" width="133.5" height="11.3" fill="url(#gmainU)"/>
<rect x="33" y="40.6" width="80.5" height="11.0" fill="url(#gmainU)"/>
<rect x="33" y="51.6" width="87.5" height="11.0" fill="url(#gmainU)"/>
<rect x="33" y="62.6" width="93.5" height="10.999999999999993" fill="url(#gmainU)"/>
<rect x="33" y="73.6" width="182.5" height="11.100000000000009" fill="url(#gmainU)"/>
<rect x="33" y="84.7" width="75.5" height="10.099999999999994" fill="url(#gmainU)"/>
<rect x="33" y="94.8" width="107.5" height="10.700000000000003" fill="url(#gmainU)"/>
<g>
<path d="M36.2,31 v7.8 M42.8,31 v7.8" stroke="#000" stroke-width="1"/>
<rect x="35.3" y="32.8" width="2.2" height="4.4" fill="#fff" stroke="#000" stroke-width="1.2"/>
<rect x="41.7" y="32.8" width="2.2" height="4.4" fill="#fff" stroke="#000" stroke-width="1.2"/>
<rect x="37.5" y="34.3" width="4" height="3.8" fill="#000"/>
<path d="M38.8,37 v2 M40.6,37 v2" stroke="#000" stroke-width="0.9"/>
<text x="48" y="39.2" font-size="9.8" textLength="117.5" lengthAdjust="spacingAndGlyphs">$SPX (Daily) 4537.95</text>
<path d="M35,46.5 h3 M39,46.5 h3" stroke="#ff00ff" stroke-width="1.8"/>
<text x="45.5" y="50.3" font-size="9.8" fill="#ff00ff" textLength="67.5" lengthAdjust="spacingAndGlyphs">MA(10) 4544.69</text>
<line x1="35" y1="57" x2="44" y2="57" stroke="#dd0000" stroke-width="2"/>
<text x="45.5" y="61" font-size="9.8" fill="#dd0000" textLength="74.5" lengthAdjust="spacingAndGlyphs">EMA(50) 4383.99</text>
<line x1="35" y1="68" x2="44" y2="68" stroke="#006600" stroke-width="2"/>
<text x="45.5" y="72" font-size="9.8" fill="#006600" textLength="80" lengthAdjust="spacingAndGlyphs">EMA(250) 4150.00</text>
<path d="M35,82.6 L35.5,79 L38,76.5 L40,80 L43.5,76 L43.8,82.6 Z" fill="#b8c4c0"/>
<text x="45.5" y="83" font-size="9.8" fill="#8c94a0" textLength="168.5" lengthAdjust="spacingAndGlyphs">BB(20,2.0) 4372.46 - 4491.88 - 4611.30</text>
<path d="M35,92.8 V88.5 H36.5 V92.8 Z M37.5,92.8 V85.5 H39.5 V92.8 Z M40,92.8 V86.5 H41.5 V92.8 Z M42.3,92.8 V87.8 H43.8 V92.8 Z" fill="#006600"/>
<text x="45.5" y="93.2" font-size="9.8" fill="#006600" textLength="62.5" lengthAdjust="spacingAndGlyphs">Volume undef</text>
<line x1="35" y1="99" x2="43" y2="99" stroke="#8020e0" stroke-width="2.4"/>
<text x="44.5" y="103.5" font-size="9.8" fill="#8833dd" textLength="95.5" lengthAdjust="spacingAndGlyphs">MA(50) 2,423,122,944</text>
</g>
<text x="729" y="282" font-size="13.5" font-weight="bold" fill="#1a961a" textLength="76.2" lengthAdjust="spacingAndGlyphs">Green Line</text>
<line x1="807" y1="426.1" x2="809" y2="426.1" stroke="#8fb0b8" stroke-width="0.8"/>
<line x1="807" y1="421.5" x2="810" y2="421.5" stroke="#8fb0b8" stroke-width="0.8"/>
<line x1="807" y1="416.9" x2="809" y2="416.9" stroke="#8fb0b8" stroke-width="0.8"/>
<line x1="807" y1="412.2" x2="809" y2="412.2" stroke="#8fb0b8" stroke-width="0.8"/>
<line x1="807" y1="407.6" x2="809" y2="407.6" stroke="#8fb0b8" stroke-width="0.8"/>
<line x1="807" y1="403.0" x2="809" y2="403.0" stroke="#8fb0b8" stroke-width="0.8"/>
<line x1="807" y1="398.4" x2="810" y2="398.4" stroke="#8fb0b8" stroke-width="0.8"/>
<line x1="807" y1="393.8" x2="809" y2="393.8" stroke="#8fb0b8" stroke-width="0.8"/>
<line x1="807" y1="389.1" x2="809" y2="389.1" stroke="#8fb0b8" stroke-width="0.8"/>
<line x1="807" y1="384.5" x2="809" y2="384.5" stroke="#8fb0b8" stroke-width="0.8"/>
<line x1="807" y1="379.9" x2="809" y2="379.9" stroke="#8fb0b8" stroke-width="0.8"/>
<line x1="807" y1="375.2" x2="810" y2="375.2" stroke="#8fb0b8" stroke-width="0.8"/>
<line x1="807" y1="370.6" x2="809" y2="370.6" stroke="#8fb0b8" stroke-width="0.8"/>
<line x1="807" y1="366.0" x2="809" y2="366.0" stroke="#8fb0b8" stroke-width="0.8"/>
<line x1="807" y1="361.4" x2="809" y2="361.4" stroke="#8fb0b8" stroke-width="0.8"/>
<line x1="807" y1="356.8" x2="809" y2="356.8" stroke="#8fb0b8" stroke-width="0.8"/>
<line x1="807" y1="352.1" x2="810" y2="352.1" stroke="#8fb0b8" stroke-width="0.8"/>
<line x1="807" y1="347.5" x2="809" y2="347.5" stroke="#8fb0b8" stroke-width="0.8"/>
<line x1="807" y1="342.9" x2="809" y2="342.9" stroke="#8fb0b8" stroke-width="0.8"/>
<line x1="807" y1="338.2" x2="809" y2="338.2" stroke="#8fb0b8" stroke-width="0.8"/>
<line x1="807" y1="333.6" x2="809" y2="333.6" stroke="#8fb0b8" stroke-width="0.8"/>
<line x1="807" y1="329.0" x2="810" y2="329.0" stroke="#8fb0b8" stroke-width="0.8"/>
<line x1="807" y1="324.4" x2="809" y2="324.4" stroke="#8fb0b8" stroke-width="0.8"/>
<line x1="807" y1="319.8" x2="809" y2="319.8" stroke="#8fb0b8" stroke-width="0.8"/>
<line x1="807" y1="315.1" x2="809" y2="315.1" stroke="#8fb0b8" stroke-width="0.8"/>
<line x1="807" y1="310.5" x2="809" y2="310.5" stroke="#8fb0b8" stroke-width="0.8"/>
<line x1="807" y1="305.9" x2="810" y2="305.9" stroke="#8fb0b8" stroke-width="0.8"/>
<line x1="807" y1="301.2" x2="809" y2="301.2" stroke="#8fb0b8" stroke-width="0.8"/>
<line x1="807" y1="296.6" x2="809" y2="296.6" stroke="#8fb0b8" stroke-width="0.8"/>
<line x1="807" y1="292.0" x2="809" y2="292.0" stroke="#8fb0b8" stroke-width="0.8"/>
<line x1="807" y1="287.4" x2="809" y2="287.4" stroke="#8fb0b8" stroke-width="0.8"/>
<line x1="807" y1="282.8" x2="810" y2="282.8" stroke="#8fb0b8" stroke-width="0.8"/>
<line x1="807" y1="278.1" x2="809" y2="278.1" stroke="#8fb0b8" stroke-width="0.8"/>
<line x1="807" y1="273.5" x2="809" y2="273.5" stroke="#8fb0b8" stroke-width="0.8"/>
<line x1="807" y1="268.9" x2="809" y2="268.9" stroke="#8fb0b8" stroke-width="0.8"/>
<line x1="807" y1="264.2" x2="809" y2="264.2" stroke="#8fb0b8" stroke-width="0.8"/>
<line x1="807" y1="259.6" x2="810" y2="259.6" stroke="#8fb0b8" stroke-width="0.8"/>
<line x1="807" y1="255.0" x2="809" y2="255.0" stroke="#8fb0b8" stroke-width="0.8"/>
<line x1="807" y1="250.4" x2="809" y2="250.4" stroke="#8fb0b8" stroke-width="0.8"/>
<line x1="807" y1="245.8" x2="809" y2="245.8" stroke="#8fb0b8" stroke-width="0.8"/>
<line x1="807" y1="241.1" x2="809" y2="241.1" stroke="#8fb0b8" stroke-width="0.8"/>
<line x1="807" y1="236.5" x2="810" y2="236.5" stroke="#8fb0b8" stroke-width="0.8"/>
<line x1="807" y1="231.9" x2="809" y2="231.9" stroke="#8fb0b8" stroke-width="0.8"/>
<line x1="807" y1="227.2" x2="809" y2="227.2" stroke="#8fb0b8" stroke-width="0.8"/>
<line x1="807" y1="222.6" x2="809" y2="222.6" stroke="#8fb0b8" stroke-width="0.8"/>
<line x1="807" y1="218.0" x2="809" y2="218.0" stroke="#8fb0b8" stroke-width="0.8"/>
<line x1="807" y1="213.4" x2="810" y2="213.4" stroke="#8fb0b8" stroke-width="0.8"/>
<line x1="807" y1="208.8" x2="809" y2="208.8" stroke="#8fb0b8" stroke-width="0.8"/>
<line x1="807" y1="204.1" x2="809" y2="204.1" stroke="#8fb0b8" stroke-width="0.8"/>
<line x1="807" y1="199.5" x2="809" y2="199.5" stroke="#8fb0b8" stroke-width="0.8"/>
<line x1="807" y1="194.9" x2="809" y2="194.9" stroke="#8fb0b8" stroke-width="0.8"/>
<line x1="807" y1="190.2" x2="810" y2="190.2" stroke="#8fb0b8" stroke-width="0.8"/>
<line x1="807" y1="185.6" x2="809" y2="185.6" stroke="#8fb0b8" stroke-width="0.8"/>
<line x1="807" y1="181.0" x2="809" y2="181.0" stroke="#8fb0b8" stroke-width="0.8"/>
<line x1="807" y1="176.4" x2="809" y2="176.4" stroke="#8fb0b8" stroke-width="0.8"/>
<line x1="807" y1="171.8" x2="809" y2="171.8" stroke="#8fb0b8" stroke-width="0.8"/>
<line x1="807" y1="167.1" x2="810" y2="167.1" stroke="#8fb0b8" stroke-width="0.8"/>
<line x1="807" y1="162.5" x2="809" y2="162.5" stroke="#8fb0b8" stroke-width="0.8"/>
<line x1="807" y1="157.9" x2="809" y2="157.9" stroke="#8fb0b8" stroke-width="0.8"/>
<line x1="807" y1="153.2" x2="809" y2="153.2" stroke="#8fb0b8" stroke-width="0.8"/>
<line x1="807" y1="148.6" x2="809" y2="148.6" stroke="#8fb0b8" stroke-width="0.8"/>
<line x1="807" y1="144.0" x2="810" y2="144.0" stroke="#8fb0b8" stroke-width="0.8"/>
<line x1="807" y1="139.4" x2="809" y2="139.4" stroke="#8fb0b8" stroke-width="0.8"/>
<line x1="807" y1="134.8" x2="809" y2="134.8" stroke="#8fb0b8" stroke-width="0.8"/>
<line x1="807" y1="130.1" x2="809" y2="130.1" stroke="#8fb0b8" stroke-width="0.8"/>
<line x1="807" y1="125.5" x2="809" y2="125.5" stroke="#8fb0b8" stroke-width="0.8"/>
<line x1="807" y1="120.9" x2="810" y2="120.9" stroke="#8fb0b8" stroke-width="0.8"/>
<line x1="807" y1="116.2" x2="809" y2="116.2" stroke="#8fb0b8" stroke-width="0.8"/>
<line x1="807" y1="111.6" x2="809" y2="111.6" stroke="#8fb0b8" stroke-width="0.8"/>
<line x1="807" y1="107.0" x2="809" y2="107.0" stroke="#8fb0b8" stroke-width="0.8"/>
<line x1="807" y1="102.4" x2="809" y2="102.4" stroke="#8fb0b8" stroke-width="0.8"/>
<line x1="807" y1="97.8" x2="810" y2="97.8" stroke="#8fb0b8" stroke-width="0.8"/>
<line x1="807" y1="93.1" x2="809" y2="93.1" stroke="#8fb0b8" stroke-width="0.8"/>
<line x1="807" y1="88.5" x2="809" y2="88.5" stroke="#8fb0b8" stroke-width="0.8"/>
<line x1="807" y1="83.9" x2="809" y2="83.9" stroke="#8fb0b8" stroke-width="0.8"/>
<line x1="807" y1="79.2" x2="809" y2="79.2" stroke="#8fb0b8" stroke-width="0.8"/>
<line x1="807" y1="74.6" x2="810" y2="74.6" stroke="#8fb0b8" stroke-width="0.8"/>
<line x1="807" y1="70.0" x2="809" y2="70.0" stroke="#8fb0b8" stroke-width="0.8"/>
<line x1="807" y1="65.4" x2="809" y2="65.4" stroke="#8fb0b8" stroke-width="0.8"/>
<line x1="807" y1="60.8" x2="809" y2="60.8" stroke="#8fb0b8" stroke-width="0.8"/>
<line x1="807" y1="56.1" x2="809" y2="56.1" stroke="#8fb0b8" stroke-width="0.8"/>
<line x1="807" y1="51.5" x2="810" y2="51.5" stroke="#8fb0b8" stroke-width="0.8"/>
<line x1="807" y1="46.9" x2="809" y2="46.9" stroke="#8fb0b8" stroke-width="0.8"/>
<text x="810" y="424.9" font-size="10" textLength="23.2" lengthAdjust="spacingAndGlyphs">3800</text>
<text x="810" y="401.8" font-size="10" textLength="23.2" lengthAdjust="spacingAndGlyphs">3850</text>
<text x="810" y="378.6" font-size="10" textLength="23.2" lengthAdjust="spacingAndGlyphs">3900</text>
<text x="810" y="355.5" font-size="10" textLength="23.2" lengthAdjust="spacingAndGlyphs">3950</text>
<text x="810" y="332.4" font-size="10" textLength="23.2" lengthAdjust="spacingAndGlyphs">4000</text>
<text x="810" y="309.3" font-size="10" textLength="23.2" lengthAdjust="spacingAndGlyphs">4050</text>
<text x="810" y="286.1" font-size="10" textLength="23.2" lengthAdjust="spacingAndGlyphs">4100</text>
<text x="810" y="263.0" font-size="10" textLength="23.2" lengthAdjust="spacingAndGlyphs">4150</text>
<text x="810" y="239.9" font-size="10" textLength="23.2" lengthAdjust="spacingAndGlyphs">4200</text>
<text x="810" y="216.8" font-size="10" textLength="23.2" lengthAdjust="spacingAndGlyphs">4250</text>
<text x="810" y="193.7" font-size="10" textLength="23.2" lengthAdjust="spacingAndGlyphs">4300</text>
<text x="810" y="170.5" font-size="10" textLength="23.2" lengthAdjust="spacingAndGlyphs">4350</text>
<text x="810" y="147.4" font-size="10" textLength="23.2" lengthAdjust="spacingAndGlyphs">4400</text>
<text x="810" y="124.3" font-size="10" textLength="23.2" lengthAdjust="spacingAndGlyphs">4450</text>
<text x="810" y="101.2" font-size="10" textLength="23.2" lengthAdjust="spacingAndGlyphs">4500</text>
<text x="810" y="78.0" font-size="10" textLength="23.2" lengthAdjust="spacingAndGlyphs">4550</text>
<text x="810" y="54.9" font-size="10" textLength="23.2" lengthAdjust="spacingAndGlyphs">4600</text>
<line x1="29.5" y1="414.2" x2="32.5" y2="414.2" stroke="#8fb0b8" stroke-width="0.8"/>
<text x="28.8" y="418.2" font-size="10.5" text-anchor="end" textLength="12.2" lengthAdjust="spacingAndGlyphs">1B</text>
<line x1="29.5" y1="392.7" x2="32.5" y2="392.7" stroke="#8fb0b8" stroke-width="0.8"/>
<text x="28.8" y="396.7" font-size="10.5" text-anchor="end" textLength="12.2" lengthAdjust="spacingAndGlyphs">2B</text>
<line x1="29.5" y1="371.2" x2="32.5" y2="371.2" stroke="#8fb0b8" stroke-width="0.8"/>
<text x="28.8" y="375.2" font-size="10.5" text-anchor="end" textLength="12.2" lengthAdjust="spacingAndGlyphs">3B</text>
<line x1="29.5" y1="349.7" x2="32.5" y2="349.7" stroke="#8fb0b8" stroke-width="0.8"/>
<text x="28.8" y="353.7" font-size="10.5" text-anchor="end" textLength="12.2" lengthAdjust="spacingAndGlyphs">4B</text>
<line x1="29.5" y1="328.2" x2="32.5" y2="328.2" stroke="#8fb0b8" stroke-width="0.8"/>
<text x="28.8" y="332.2" font-size="10.5" text-anchor="end" textLength="12.2" lengthAdjust="spacingAndGlyphs">5B</text>
<line x1="29.5" y1="306.7" x2="32.5" y2="306.7" stroke="#8fb0b8" stroke-width="0.8"/>
<text x="28.8" y="310.7" font-size="10.5" text-anchor="end" textLength="12.2" lengthAdjust="spacingAndGlyphs">6B</text>
<text x="52.3" y="446.8" font-size="10.5" font-weight="bold" text-anchor="middle" textLength="20" lengthAdjust="spacingAndGlyphs">Feb</text>
<text x="160.7" y="446.8" font-size="10.5" font-weight="bold" text-anchor="middle" textLength="20" lengthAdjust="spacingAndGlyphs">Mar</text>
<text x="291.8" y="446.8" font-size="10.5" font-weight="bold" text-anchor="middle" textLength="19.5" lengthAdjust="spacingAndGlyphs">Apr</text>
<text x="400.2" y="446.8" font-size="10.5" font-weight="bold" text-anchor="middle" textLength="21.8" lengthAdjust="spacingAndGlyphs">May</text>
<text x="525.7" y="446.8" font-size="10.5" font-weight="bold" text-anchor="middle" textLength="18" lengthAdjust="spacingAndGlyphs">Jun</text>
<text x="645.4" y="446.8" font-size="10.5" font-weight="bold" text-anchor="middle" textLength="15" lengthAdjust="spacingAndGlyphs">Jul</text>
<text x="759.5" y="446.8" font-size="10.5" font-weight="bold" text-anchor="middle" textLength="21.3" lengthAdjust="spacingAndGlyphs">Aug</text>
<text x="69.4" y="446.8" font-size="10" text-anchor="middle" textLength="6.3" lengthAdjust="spacingAndGlyphs">6</text>
<text x="97.9" y="446.8" font-size="10" text-anchor="middle" textLength="11.2" lengthAdjust="spacingAndGlyphs">13</text>
<text x="126.4" y="446.8" font-size="10" text-anchor="middle" textLength="11.2" lengthAdjust="spacingAndGlyphs">21</text>
<text x="177.8" y="446.8" font-size="10" text-anchor="middle" textLength="6.3" lengthAdjust="spacingAndGlyphs">6</text>
<text x="206.3" y="446.8" font-size="10" text-anchor="middle" textLength="11.2" lengthAdjust="spacingAndGlyphs">13</text>
<text x="234.8" y="446.8" font-size="10" text-anchor="middle" textLength="11.2" lengthAdjust="spacingAndGlyphs">20</text>
<text x="263.3" y="446.8" font-size="10" text-anchor="middle" textLength="11.2" lengthAdjust="spacingAndGlyphs">27</text>
<text x="314.6" y="446.8" font-size="10" text-anchor="middle" textLength="11.2" lengthAdjust="spacingAndGlyphs">10</text>
<text x="343.2" y="446.8" font-size="10" text-anchor="middle" textLength="11.2" lengthAdjust="spacingAndGlyphs">17</text>
<text x="371.7" y="446.8" font-size="10" text-anchor="middle" textLength="11.2" lengthAdjust="spacingAndGlyphs">24</text>
<text x="428.7" y="446.8" font-size="10" text-anchor="middle" textLength="6.3" lengthAdjust="spacingAndGlyphs">8</text>
<text x="457.2" y="446.8" font-size="10" text-anchor="middle" textLength="11.2" lengthAdjust="spacingAndGlyphs">15</text>
<text x="485.7" y="446.8" font-size="10" text-anchor="middle" textLength="11.2" lengthAdjust="spacingAndGlyphs">22</text>
<text x="537.1" y="446.8" font-size="10" text-anchor="middle" textLength="6.3" lengthAdjust="spacingAndGlyphs">5</text>
<text x="565.6" y="446.8" font-size="10" text-anchor="middle" textLength="11.2" lengthAdjust="spacingAndGlyphs">12</text>
<text x="594.1" y="446.8" font-size="10" text-anchor="middle" textLength="11.2" lengthAdjust="spacingAndGlyphs">20</text>
<text x="616.9" y="446.8" font-size="10" text-anchor="middle" textLength="11.2" lengthAdjust="spacingAndGlyphs">26</text>
<text x="668.2" y="446.8" font-size="10" text-anchor="middle" textLength="11.2" lengthAdjust="spacingAndGlyphs">10</text>
<text x="696.7" y="446.8" font-size="10" text-anchor="middle" textLength="11.2" lengthAdjust="spacingAndGlyphs">17</text>
<text x="725.3" y="446.8" font-size="10" text-anchor="middle" textLength="11.2" lengthAdjust="spacingAndGlyphs">24</text>
<text x="782.3" y="446.8" font-size="10" text-anchor="middle" textLength="6.3" lengthAdjust="spacingAndGlyphs">7</text>
<text x="52.3" y="645.2" font-size="10.5" font-weight="bold" text-anchor="middle" textLength="20" lengthAdjust="spacingAndGlyphs">Feb</text>
<text x="160.7" y="645.2" font-size="10.5" font-weight="bold" text-anchor="middle" textLength="20" lengthAdjust="spacingAndGlyphs">Mar</text>
<text x="291.8" y="645.2" font-size="10.5" font-weight="bold" text-anchor="middle" textLength="19.5" lengthAdjust="spacingAndGlyphs">Apr</text>
<text x="400.2" y="645.2" font-size="10.5" font-weight="bold" text-anchor="middle" textLength="21.8" lengthAdjust="spacingAndGlyphs">May</text>
<text x="525.7" y="645.2" font-size="10.5" font-weight="bold" text-anchor="middle" textLength="18" lengthAdjust="spacingAndGlyphs">Jun</text>
<text x="645.4" y="645.2" font-size="10.5" font-weight="bold" text-anchor="middle" textLength="15" lengthAdjust="spacingAndGlyphs">Jul</text>
<text x="759.5" y="645.2" font-size="10.5" font-weight="bold" text-anchor="middle" textLength="21.3" lengthAdjust="spacingAndGlyphs">Aug</text>
<text x="69.4" y="645.2" font-size="10" text-anchor="middle" textLength="6.3" lengthAdjust="spacingAndGlyphs">6</text>
<text x="97.9" y="645.2" font-size="10" text-anchor="middle" textLength="11.2" lengthAdjust="spacingAndGlyphs">13</text>
<text x="126.4" y="645.2" font-size="10" text-anchor="middle" textLength="11.2" lengthAdjust="spacingAndGlyphs">21</text>
<text x="177.8" y="645.2" font-size="10" text-anchor="middle" textLength="6.3" lengthAdjust="spacingAndGlyphs">6</text>
<text x="206.3" y="645.2" font-size="10" text-anchor="middle" textLength="11.2" lengthAdjust="spacingAndGlyphs">13</text>
<text x="234.8" y="645.2" font-size="10" text-anchor="middle" textLength="11.2" lengthAdjust="spacingAndGlyphs">20</text>
<text x="263.3" y="645.2" font-size="10" text-anchor="middle" textLength="11.2" lengthAdjust="spacingAndGlyphs">27</text>
<text x="314.6" y="645.2" font-size="10" text-anchor="middle" textLength="11.2" lengthAdjust="spacingAndGlyphs">10</text>
<text x="343.2" y="645.2" font-size="10" text-anchor="middle" textLength="11.2" lengthAdjust="spacingAndGlyphs">17</text>
<text x="371.7" y="645.2" font-size="10" text-anchor="middle" textLength="11.2" lengthAdjust="spacingAndGlyphs">24</text>
<text x="428.7" y="645.2" font-size="10" text-anchor="middle" textLength="6.3" lengthAdjust="spacingAndGlyphs">8</text>
<text x="457.2" y="645.2" font-size="10" text-anchor="middle" textLength="11.2" lengthAdjust="spacingAndGlyphs">15</text>
<text x="485.7" y="645.2" font-size="10" text-anchor="middle" textLength="11.2" lengthAdjust="spacingAndGlyphs">22</text>
<text x="537.1" y="645.2" font-size="10" text-anchor="middle" textLength="6.3" lengthAdjust="spacingAndGlyphs">5</text>
<text x="565.6" y="645.2" font-size="10" text-anchor="middle" textLength="11.2" lengthAdjust="spacingAndGlyphs">12</text>
<text x="594.1" y="645.2" font-size="10" text-anchor="middle" textLength="11.2" lengthAdjust="spacingAndGlyphs">20</text>
<text x="616.9" y="645.2" font-size="10" text-anchor="middle" textLength="11.2" lengthAdjust="spacingAndGlyphs">26</text>
<text x="668.2" y="645.2" font-size="10" text-anchor="middle" textLength="11.2" lengthAdjust="spacingAndGlyphs">10</text>
<text x="696.7" y="645.2" font-size="10" text-anchor="middle" textLength="11.2" lengthAdjust="spacingAndGlyphs">17</text>
<text x="725.3" y="645.2" font-size="10" text-anchor="middle" textLength="11.2" lengthAdjust="spacingAndGlyphs">24</text>
<text x="782.3" y="645.2" font-size="10" text-anchor="middle" textLength="6.3" lengthAdjust="spacingAndGlyphs">7</text>
<path d="M35.2,436.5 v2.2 M40.9,436.5 v2.2 M46.6,436.5 v2.2 M52.3,436.5 v2.2 M58.0,436.5 v2.2 M63.7,436.5 v2.2 M69.4,436.5 v2.2 M75.1,436.5 v2.2 M80.8,436.5 v2.2 M86.5,436.5 v2.2 M92.2,436.5 v2.2 M97.9,436.5 v2.2 M103.6,436.5 v2.2 M109.3,436.5 v2.2 M115.0,436.5 v2.2 M120.7,436.5 v2.2 M126.4,436.5 v2.2 M132.2,436.5 v2.2 M137.9,436.5 v2.2 M143.6,436.5 v2.2 M149.3,436.5 v2.2 M155.0,436.5 v2.2 M160.7,436.5 v2.2 M166.4,436.5 v2.2 M172.1,436.5 v2.2 M177.8,436.5 v2.2 M183.5,436.5 v2.2 M189.2,436.5 v2.2 M194.9,436.5 v2.2 M200.6,436.5 v2.2 M206.3,436.5 v2.2 M212.0,436.5 v2.2 M217.7,436.5 v2.2 M223.4,436.5 v2.2 M229.1,436.5 v2.2 M234.8,436.5 v2.2 M240.5,436.5 v2.2 M246.2,436.5 v2.2 M251.9,436.5 v2.2 M257.6,436.5 v2.2 M263.3,436.5 v2.2 M269.0,436.5 v2.2 M274.7,436.5 v2.2 M280.4,436.5 v2.2 M286.1,436.5 v2.2 M291.8,436.5 v2.2 M297.5,436.5 v2.2 M303.2,436.5 v2.2 M308.9,436.5 v2.2 M314.6,436.5 v2.2 M320.4,436.5 v2.2 M326.1,436.5 v2.2 M331.8,436.5 v2.2 M337.5,436.5 v2.2 M343.2,436.5 v2.2 M348.9,436.5 v2.2 M354.6,436.5 v2.2 M360.3,436.5 v2.2 M366.0,436.5 v2.2 M371.7,436.5 v2.2 M377.4,436.5 v2.2 M383.1,436.5 v2.2 M388.8,436.5 v2.2 M394.5,436.5 v2.2 M400.2,436.5 v2.2 M405.9,436.5 v2.2 M411.6,436.5 v2.2 M417.3,436.5 v2.2 M423.0,436.5 v2.2 M428.7,436.5 v2.2 M434.4,436.5 v2.2 M440.1,436.5 v2.2 M445.8,436.5 v2.2 M451.5,436.5 v2.2 M457.2,436.5 v2.2 M462.9,436.5 v2.2 M468.6,436.5 v2.2 M474.3,436.5 v2.2 M480.0,436.5 v2.2 M485.7,436.5 v2.2 M491.4,436.5 v2.2 M497.1,436.5 v2.2 M502.8,436.5 v2.2 M508.5,436.5 v2.2 M514.3,436.5 v2.2 M520.0,436.5 v2.2 M525.7,436.5 v2.2 M531.4,436.5 v2.2 M537.1,436.5 v2.2 M542.8,436.5 v2.2 M548.5,436.5 v2.2 M554.2,436.5 v2.2 M559.9,436.5 v2.2 M565.6,436.5 v2.2 M571.3,436.5 v2.2 M577.0,436.5 v2.2 M582.7,436.5 v2.2 M588.4,436.5 v2.2 M594.1,436.5 v2.2 M599.8,436.5 v2.2 M605.5,436.5 v2.2 M611.2,436.5 v2.2 M616.9,436.5 v2.2 M622.6,436.5 v2.2 M628.3,436.5 v2.2 M634.0,436.5 v2.2 M639.7,436.5 v2.2 M645.4,436.5 v2.2 M651.1,436.5 v2.2 M656.8,436.5 v2.2 M662.5,436.5 v2.2 M668.2,436.5 v2.2 M673.9,436.5 v2.2 M679.6,436.5 v2.2 M685.3,436.5 v2.2 M691.0,436.5 v2.2 M696.7,436.5 v2.2 M702.5,436.5 v2.2 M708.2,436.5 v2.2 M713.9,436.5 v2.2 M719.6,436.5 v2.2 M725.3,436.5 v2.2 M731.0,436.5 v2.2 M736.7,436.5 v2.2 M742.4,436.5 v2.2 M748.1,436.5 v2.2 M753.8,436.5 v2.2 M759.5,436.5 v2.2 M765.2,436.5 v2.2 M770.9,436.5 v2.2 M776.6,436.5 v2.2 M782.3,436.5 v2.2 M788.0,436.5 v2.2 M793.7,436.5 v2.2 M799.4,436.5 v2.2 M805.1,436.5 v2.2" stroke="#8fb0b8" stroke-width="0.8"/>
<path d="M35.2,448.3 v2.2 M40.9,448.3 v2.2 M46.6,448.3 v2.2 M52.3,448.3 v2.2 M58.0,448.3 v2.2 M63.7,448.3 v2.2 M69.4,448.3 v2.2 M75.1,448.3 v2.2 M80.8,448.3 v2.2 M86.5,448.3 v2.2 M92.2,448.3 v2.2 M97.9,448.3 v2.2 M103.6,448.3 v2.2 M109.3,448.3 v2.2 M115.0,448.3 v2.2 M120.7,448.3 v2.2 M126.4,448.3 v2.2 M132.2,448.3 v2.2 M137.9,448.3 v2.2 M143.6,448.3 v2.2 M149.3,448.3 v2.2 M155.0,448.3 v2.2 M160.7,448.3 v2.2 M166.4,448.3 v2.2 M172.1,448.3 v2.2 M177.8,448.3 v2.2 M183.5,448.3 v2.2 M189.2,448.3 v2.2 M194.9,448.3 v2.2 M200.6,448.3 v2.2 M206.3,448.3 v2.2 M212.0,448.3 v2.2 M217.7,448.3 v2.2 M223.4,448.3 v2.2 M229.1,448.3 v2.2 M234.8,448.3 v2.2 M240.5,448.3 v2.2 M246.2,448.3 v2.2 M251.9,448.3 v2.2 M257.6,448.3 v2.2 M263.3,448.3 v2.2 M269.0,448.3 v2.2 M274.7,448.3 v2.2 M280.4,448.3 v2.2 M286.1,448.3 v2.2 M291.8,448.3 v2.2 M297.5,448.3 v2.2 M303.2,448.3 v2.2 M308.9,448.3 v2.2 M314.6,448.3 v2.2 M320.4,448.3 v2.2 M326.1,448.3 v2.2 M331.8,448.3 v2.2 M337.5,448.3 v2.2 M343.2,448.3 v2.2 M348.9,448.3 v2.2 M354.6,448.3 v2.2 M360.3,448.3 v2.2 M366.0,448.3 v2.2 M371.7,448.3 v2.2 M377.4,448.3 v2.2 M383.1,448.3 v2.2 M388.8,448.3 v2.2 M394.5,448.3 v2.2 M400.2,448.3 v2.2 M405.9,448.3 v2.2 M411.6,448.3 v2.2 M417.3,448.3 v2.2 M423.0,448.3 v2.2 M428.7,448.3 v2.2 M434.4,448.3 v2.2 M440.1,448.3 v2.2 M445.8,448.3 v2.2 M451.5,448.3 v2.2 M457.2,448.3 v2.2 M462.9,448.3 v2.2 M468.6,448.3 v2.2 M474.3,448.3 v2.2 M480.0,448.3 v2.2 M485.7,448.3 v2.2 M491.4,448.3 v2.2 M497.1,448.3 v2.2 M502.8,448.3 v2.2 M508.5,448.3 v2.2 M514.3,448.3 v2.2 M520.0,448.3 v2.2 M525.7,448.3 v2.2 M531.4,448.3 v2.2 M537.1,448.3 v2.2 M542.8,448.3 v2.2 M548.5,448.3 v2.2 M554.2,448.3 v2.2 M559.9,448.3 v2.2 M565.6,448.3 v2.2 M571.3,448.3 v2.2 M577.0,448.3 v2.2 M582.7,448.3 v2.2 M588.4,448.3 v2.2 M594.1,448.3 v2.2 M599.8,448.3 v2.2 M605.5,448.3 v2.2 M611.2,448.3 v2.2 M616.9,448.3 v2.2 M622.6,448.3 v2.2 M628.3,448.3 v2.2 M634.0,448.3 v2.2 M639.7,448.3 v2.2 M645.4,448.3 v2.2 M651.1,448.3 v2.2 M656.8,448.3 v2.2 M662.5,448.3 v2.2 M668.2,448.3 v2.2 M673.9,448.3 v2.2 M679.6,448.3 v2.2 M685.3,448.3 v2.2 M691.0,448.3 v2.2 M696.7,448.3 v2.2 M702.5,448.3 v2.2 M708.2,448.3 v2.2 M713.9,448.3 v2.2 M719.6,448.3 v2.2 M725.3,448.3 v2.2 M731.0,448.3 v2.2 M736.7,448.3 v2.2 M742.4,448.3 v2.2 M748.1,448.3 v2.2 M753.8,448.3 v2.2 M759.5,448.3 v2.2 M765.2,448.3 v2.2 M770.9,448.3 v2.2 M776.6,448.3 v2.2 M782.3,448.3 v2.2 M788.0,448.3 v2.2 M793.7,448.3 v2.2 M799.4,448.3 v2.2 M805.1,448.3 v2.2" stroke="#8fb0b8" stroke-width="0.8"/>
<path d="M35.2,633.5 v2.2 M40.9,633.5 v2.2 M46.6,633.5 v2.2 M52.3,633.5 v2.2 M58.0,633.5 v2.2 M63.7,633.5 v2.2 M69.4,633.5 v2.2 M75.1,633.5 v2.2 M80.8,633.5 v2.2 M86.5,633.5 v2.2 M92.2,633.5 v2.2 M97.9,633.5 v2.2 M103.6,633.5 v2.2 M109.3,633.5 v2.2 M115.0,633.5 v2.2 M120.7,633.5 v2.2 M126.4,633.5 v2.2 M132.2,633.5 v2.2 M137.9,633.5 v2.2 M143.6,633.5 v2.2 M149.3,633.5 v2.2 M155.0,633.5 v2.2 M160.7,633.5 v2.2 M166.4,633.5 v2.2 M172.1,633.5 v2.2 M177.8,633.5 v2.2 M183.5,633.5 v2.2 M189.2,633.5 v2.2 M194.9,633.5 v2.2 M200.6,633.5 v2.2 M206.3,633.5 v2.2 M212.0,633.5 v2.2 M217.7,633.5 v2.2 M223.4,633.5 v2.2 M229.1,633.5 v2.2 M234.8,633.5 v2.2 M240.5,633.5 v2.2 M246.2,633.5 v2.2 M251.9,633.5 v2.2 M257.6,633.5 v2.2 M263.3,633.5 v2.2 M269.0,633.5 v2.2 M274.7,633.5 v2.2 M280.4,633.5 v2.2 M286.1,633.5 v2.2 M291.8,633.5 v2.2 M297.5,633.5 v2.2 M303.2,633.5 v2.2 M308.9,633.5 v2.2 M314.6,633.5 v2.2 M320.4,633.5 v2.2 M326.1,633.5 v2.2 M331.8,633.5 v2.2 M337.5,633.5 v2.2 M343.2,633.5 v2.2 M348.9,633.5 v2.2 M354.6,633.5 v2.2 M360.3,633.5 v2.2 M366.0,633.5 v2.2 M371.7,633.5 v2.2 M377.4,633.5 v2.2 M383.1,633.5 v2.2 M388.8,633.5 v2.2 M394.5,633.5 v2.2 M400.2,633.5 v2.2 M405.9,633.5 v2.2 M411.6,633.5 v2.2 M417.3,633.5 v2.2 M423.0,633.5 v2.2 M428.7,633.5 v2.2 M434.4,633.5 v2.2 M440.1,633.5 v2.2 M445.8,633.5 v2.2 M451.5,633.5 v2.2 M457.2,633.5 v2.2 M462.9,633.5 v2.2 M468.6,633.5 v2.2 M474.3,633.5 v2.2 M480.0,633.5 v2.2 M485.7,633.5 v2.2 M491.4,633.5 v2.2 M497.1,633.5 v2.2 M502.8,633.5 v2.2 M508.5,633.5 v2.2 M514.3,633.5 v2.2 M520.0,633.5 v2.2 M525.7,633.5 v2.2 M531.4,633.5 v2.2 M537.1,633.5 v2.2 M542.8,633.5 v2.2 M548.5,633.5 v2.2 M554.2,633.5 v2.2 M559.9,633.5 v2.2 M565.6,633.5 v2.2 M571.3,633.5 v2.2 M577.0,633.5 v2.2 M582.7,633.5 v2.2 M588.4,633.5 v2.2 M594.1,633.5 v2.2 M599.8,633.5 v2.2 M605.5,633.5 v2.2 M611.2,633.5 v2.2 M616.9,633.5 v2.2 M622.6,633.5 v2.2 M628.3,633.5 v2.2 M634.0,633.5 v2.2 M639.7,633.5 v2.2 M645.4,633.5 v2.2 M651.1,633.5 v2.2 M656.8,633.5 v2.2 M662.5,633.5 v2.2 M668.2,633.5 v2.2 M673.9,633.5 v2.2 M679.6,633.5 v2.2 M685.3,633.5 v2.2 M691.0,633.5 v2.2 M696.7,633.5 v2.2 M702.5,633.5 v2.2 M708.2,633.5 v2.2 M713.9,633.5 v2.2 M719.6,633.5 v2.2 M725.3,633.5 v2.2 M731.0,633.5 v2.2 M736.7,633.5 v2.2 M742.4,633.5 v2.2 M748.1,633.5 v2.2 M753.8,633.5 v2.2 M759.5,633.5 v2.2 M765.2,633.5 v2.2 M770.9,633.5 v2.2 M776.6,633.5 v2.2 M782.3,633.5 v2.2 M788.0,633.5 v2.2 M793.7,633.5 v2.2 M799.4,633.5 v2.2 M805.1,633.5 v2.2" stroke="#8fb0b8" stroke-width="0.8"/>
<rect x="855.5" y="28.5" width="101.0" height="408.0" fill="url(#gmain)"/>
<clipPath id="cp2"><rect x="855.5" y="28.5" width="101" height="408"/></clipPath>
<g clip-path="url(#cp2)">
<line x1="855.5" y1="426.3" x2="956.5" y2="426.3" stroke="#7f9f7f" stroke-opacity="0.26"/>
<line x1="855.5" y1="409.7" x2="956.5" y2="409.7" stroke="#7f9f7f" stroke-opacity="0.26"/>
<line x1="855.5" y1="393.0" x2="956.5" y2="393.0" stroke="#7f9f7f" stroke-opacity="0.26"/>
<line x1="855.5" y1="376.3" x2="956.5" y2="376.3" stroke="#7f9f7f" stroke-opacity="0.26"/>
<line x1="855.5" y1="359.7" x2="956.5" y2="359.7" stroke="#7f9f7f" stroke-opacity="0.26"/>
<line x1="855.5" y1="343.0" x2="956.5" y2="343.0" stroke="#7f9f7f" stroke-opacity="0.26"/>
<line x1="855.5" y1="326.3" x2="956.5" y2="326.3" stroke="#7f9f7f" stroke-opacity="0.26"/>
<line x1="855.5" y1="309.7" x2="956.5" y2="309.7" stroke="#7f9f7f" stroke-opacity="0.26"/>
<line x1="855.5" y1="293.0" x2="956.5" y2="293.0" stroke="#7f9f7f" stroke-opacity="0.26"/>
<line x1="855.5" y1="276.3" x2="956.5" y2="276.3" stroke="#7f9f7f" stroke-opacity="0.26"/>
<line x1="855.5" y1="259.6" x2="956.5" y2="259.6" stroke="#7f9f7f" stroke-opacity="0.26"/>
<line x1="855.5" y1="243.0" x2="956.5" y2="243.0" stroke="#7f9f7f" stroke-opacity="0.26"/>
<line x1="855.5" y1="226.3" x2="956.5" y2="226.3" stroke="#7f9f7f" stroke-opacity="0.26"/>
<line x1="855.5" y1="209.6" x2="956.5" y2="209.6" stroke="#7f9f7f" stroke-opacity="0.26"/>
<line x1="855.5" y1="193.0" x2="956.5" y2="193.0" stroke="#7f9f7f" stroke-opacity="0.26"/>
<line x1="855.5" y1="176.3" x2="956.5" y2="176.3" stroke="#7f9f7f" stroke-opacity="0.26"/>
<line x1="855.5" y1="159.6" x2="956.5" y2="159.6" stroke="#7f9f7f" stroke-opacity="0.26"/>
<line x1="855.5" y1="142.9" x2="956.5" y2="142.9" stroke="#7f9f7f" stroke-opacity="0.26"/>
<line x1="855.5" y1="126.3" x2="956.5" y2="126.3" stroke="#7f9f7f" stroke-opacity="0.26"/>
<line x1="855.5" y1="109.6" x2="956.5" y2="109.6" stroke="#7f9f7f" stroke-opacity="0.26"/>
<line x1="855.5" y1="92.9" x2="956.5" y2="92.9" stroke="#7f9f7f" stroke-opacity="0.26"/>
<line x1="855.5" y1="76.3" x2="956.5" y2="76.3" stroke="#7f9f7f" stroke-opacity="0.26"/>
<line x1="855.5" y1="59.6" x2="956.5" y2="59.6" stroke="#7f9f7f" stroke-opacity="0.26"/>
<line x1="855.5" y1="42.9" x2="956.5" y2="42.9" stroke="#7f9f7f" stroke-opacity="0.26"/>
<line x1="884.6" y1="28.5" x2="884.6" y2="436.5" stroke="#7f9f7f" stroke-opacity="0.26"/>
<line x1="909.6" y1="28.5" x2="909.6" y2="436.5" stroke="#7f9f7f" stroke-opacity="0.26"/>
<line x1="934.6" y1="28.5" x2="934.6" y2="436.5" stroke="#7f9f7f" stroke-opacity="0.26"/>
<line x1="864.6" y1="28.5" x2="864.6" y2="436.5" stroke="#5f7f5f" stroke-opacity="0.42"/>
</g>
<g clip-path="url(#cp2)">
<rect x="842.1" y="354.0" width="5" height="82.5" fill="#c4d09c" stroke="#a0b880" stroke-width="0.8"/>
<rect x="847.1" y="354.0" width="5" height="82.5" fill="#f0bc98" stroke="#e8a080" stroke-width="0.8"/>
<rect x="852.1" y="359.1" width="5" height="77.4" fill="#c4d09c" stroke="#a0b880" stroke-width="0.8"/>
<rect x="857.1" y="349.0" width="5" height="87.5" fill="#c4d09c" stroke="#a0b880" stroke-width="0.8"/>
<rect x="862.1" y="391.4" width="5" height="45.1" fill="#c4d09c" stroke="#a0b880" stroke-width="0.8"/>
<rect x="867.1" y="361.0" width="5" height="75.5" fill="#f0bc98" stroke="#e8a080" stroke-width="0.8"/>
<rect x="872.1" y="355.9" width="5" height="80.6" fill="#f0bc98" stroke="#e8a080" stroke-width="0.8"/>
<rect x="877.1" y="361.0" width="5" height="75.5" fill="#f0bc98" stroke="#e8a080" stroke-width="0.8"/>
<rect x="882.1" y="359.1" width="5" height="77.4" fill="#c4d09c" stroke="#a0b880" stroke-width="0.8"/>
<rect x="887.1" y="359.1" width="5" height="77.4" fill="#c4d09c" stroke="#a0b880" stroke-width="0.8"/>
<rect x="892.1" y="352.3" width="5" height="84.2" fill="#c4d09c" stroke="#a0b880" stroke-width="0.8"/>
<rect x="897.1" y="355.9" width="5" height="80.6" fill="#c4d09c" stroke="#a0b880" stroke-width="0.8"/>
<rect x="902.1" y="350.8" width="5" height="85.7" fill="#f0bc98" stroke="#e8a080" stroke-width="0.8"/>
<rect x="907.1" y="350.3" width="5" height="86.2" fill="#c4d09c" stroke="#a0b880" stroke-width="0.8"/>
<rect x="912.1" y="345.8" width="5" height="90.7" fill="#c4d09c" stroke="#a0b880" stroke-width="0.8"/>
<rect x="917.1" y="342.2" width="5" height="94.3" fill="#c4d09c" stroke="#a0b880" stroke-width="0.8"/>
<rect x="922.1" y="343.9" width="5" height="92.6" fill="#f0bc98" stroke="#e8a080" stroke-width="0.8"/>
<rect x="927.1" y="320.4" width="5" height="116.1" fill="#c4d09c" stroke="#a0b880" stroke-width="0.8"/>
<rect x="932.1" y="359.1" width="5" height="77.4" fill="#c4d09c" stroke="#a0b880" stroke-width="0.8"/>
<rect x="937.1" y="354.0" width="5" height="82.5" fill="#c4d09c" stroke="#a0b880" stroke-width="0.8"/>
<rect x="942.1" y="354.0" width="5" height="82.5" fill="#f0bc98" stroke="#e8a080" stroke-width="0.8"/>
<polygon points="850,330 856,306 864,278 870,266 875,265 880,274 888,282 894,276 899,244 910,200 921,104 934,62 944,42 949.6,40.4 949.6,440 850,440" fill="#9a9c88" fill-opacity="0.2" stroke="#a0a8a0" stroke-width="0.9"/>
<polyline points="873,436 920,330 930,306 950,238" fill="none" stroke="#a8a8a8" stroke-width="1" stroke-dasharray="2,3"/>
<polyline points="940,440 949.6,419" fill="none" stroke="#e07060" stroke-width="1"/>
<polyline points="856,348 876,348 886,350 944,350" fill="none" stroke="#8833dd" stroke-width="1.4"/>
<rect x="946" y="46" width="7" height="119.5" fill="#f8f070"/>
<polyline points="854,428 857.4,422.9 870.3,404.3 884.6,381.4 898.9,335.7 913.1,281.4 923.1,250 933,198 940,166 949,151" fill="none" stroke="#ee22ee" stroke-width="2.5" stroke-dasharray="3.6,2.6"/>
<line x1="854.6" y1="393.0" x2="854.6" y2="396.4" stroke="#0a7a0a" stroke-width="1.3"/>
<line x1="854.6" y1="434.6" x2="854.6" y2="440.0" stroke="#0a7a0a" stroke-width="1.3"/>
<rect x="853.0" y="397.0" width="3.1" height="36.9" fill="none" stroke="#0a7a0a" stroke-width="1.3"/>
<line x1="859.6" y1="295.0" x2="859.6" y2="309.0" stroke="#0a7a0a" stroke-width="1.3"/>
<line x1="859.6" y1="355.6" x2="859.6" y2="356.0" stroke="#0a7a0a" stroke-width="1.3"/>
<rect x="858.0" y="309.6" width="3.1" height="45.3" fill="none" stroke="#0a7a0a" stroke-width="1.3"/>
<line x1="864.6" y1="298.4" x2="864.6" y2="300.0" stroke="#0a7a0a" stroke-width="1.3"/>
<line x1="864.6" y1="308.0" x2="864.6" y2="323.0" stroke="#0a7a0a" stroke-width="1.3"/>
<rect x="863.0" y="300.6" width="3.1" height="6.7" fill="none" stroke="#0a7a0a" stroke-width="1.3"/>
<line x1="869.6" y1="302.0" x2="869.6" y2="315.0" stroke="#dd1111" stroke-width="1.3"/>
<line x1="869.6" y1="323.6" x2="869.6" y2="333.0" stroke="#dd1111" stroke-width="1.3"/>
<rect x="868.0" y="315.6" width="3.1" height="7.3" fill="none" stroke="#dd1111" stroke-width="1.3"/>
<line x1="874.6" y1="355.0" x2="874.6" y2="418.0" stroke="#dd1111" stroke-width="1.3"/>
<rect x="872.4" y="355.0" width="4.4" height="18.6" fill="#dd1111"/>
<line x1="879.6" y1="325.0" x2="879.6" y2="398.0" stroke="#dd1111" stroke-width="1.3"/>
<rect x="877.4" y="385.0" width="4.4" height="10.0" fill="#dd1111"/>
<line x1="884.6" y1="372.0" x2="884.6" y2="377.0" stroke="#0a7a0a" stroke-width="1.3"/>
<line x1="884.6" y1="403.0" x2="884.6" y2="410.0" stroke="#0a7a0a" stroke-width="1.3"/>
<rect x="883.0" y="377.6" width="3.1" height="24.7" fill="none" stroke="#0a7a0a" stroke-width="1.3"/>
<line x1="889.6" y1="320.0" x2="889.6" y2="327.0" stroke="#0a7a0a" stroke-width="1.3"/>
<line x1="889.6" y1="367.6" x2="889.6" y2="379.0" stroke="#0a7a0a" stroke-width="1.3"/>
<rect x="888.0" y="327.6" width="3.1" height="39.3" fill="none" stroke="#0a7a0a" stroke-width="1.3"/>
<line x1="894.6" y1="245.0" x2="894.6" y2="272.4" stroke="#0a7a0a" stroke-width="1.3"/>
<line x1="894.6" y1="280.4" x2="894.6" y2="287.6" stroke="#0a7a0a" stroke-width="1.3"/>
<rect x="893.0" y="273.0" width="3.1" height="6.7" fill="none" stroke="#0a7a0a" stroke-width="1.3"/>
<line x1="899.6" y1="197.0" x2="899.6" y2="209.0" stroke="#0a7a0a" stroke-width="1.3"/>
<line x1="899.6" y1="241.0" x2="899.6" y2="244.4" stroke="#0a7a0a" stroke-width="1.3"/>
<rect x="898.0" y="209.7" width="3.1" height="30.7" fill="none" stroke="#0a7a0a" stroke-width="1.3"/>
<line x1="904.6" y1="180.0" x2="904.6" y2="227.6" stroke="#dd1111" stroke-width="1.3"/>
<rect x="902.4" y="202.0" width="4.4" height="15.6" fill="#dd1111"/>
<line x1="909.6" y1="171.0" x2="909.6" y2="188.0" stroke="#0a7a0a" stroke-width="1.3"/>
<line x1="909.6" y1="211.6" x2="909.6" y2="218.4" stroke="#0a7a0a" stroke-width="1.3"/>
<rect x="908.0" y="188.7" width="3.1" height="22.3" fill="none" stroke="#0a7a0a" stroke-width="1.3"/>
<line x1="914.6" y1="122.0" x2="914.6" y2="134.0" stroke="#0a7a0a" stroke-width="1.3"/>
<line x1="914.6" y1="190.4" x2="914.6" y2="203.0" stroke="#0a7a0a" stroke-width="1.3"/>
<rect x="913.0" y="134.7" width="3.1" height="55.1" fill="none" stroke="#0a7a0a" stroke-width="1.3"/>
<line x1="919.6" y1="95.0" x2="919.6" y2="115.8" stroke="#0a7a0a" stroke-width="1.3"/>
<line x1="919.6" y1="119.8" x2="919.6" y2="131.0" stroke="#0a7a0a" stroke-width="1.3"/>
<rect x="918.0" y="116.5" width="3.1" height="2.7" fill="none" stroke="#0a7a0a" stroke-width="1.3"/>
<line x1="924.6" y1="118.0" x2="924.6" y2="181.0" stroke="#dd1111" stroke-width="1.3"/>
<rect x="922.4" y="135.0" width="4.4" height="34.0" fill="#dd1111"/>
<line x1="929.6" y1="134.4" x2="929.6" y2="167.0" stroke="#0a7a0a" stroke-width="1.3"/>
<rect x="927.4" y="142.0" width="4.4" height="24.0" fill="#0a7a0a"/>
<line x1="934.6" y1="120.0" x2="934.6" y2="135.0" stroke="#0a7a0a" stroke-width="1.3"/>
<line x1="934.6" y1="154.4" x2="934.6" y2="157.6" stroke="#0a7a0a" stroke-width="1.3"/>
<rect x="933.0" y="135.7" width="3.1" height="18.1" fill="none" stroke="#0a7a0a" stroke-width="1.3"/>
<line x1="939.6" y1="92.0" x2="939.6" y2="114.4" stroke="#0a7a0a" stroke-width="1.3"/>
<line x1="939.6" y1="134.4" x2="939.6" y2="139.6" stroke="#0a7a0a" stroke-width="1.3"/>
<rect x="938.0" y="115.1" width="3.1" height="18.7" fill="none" stroke="#0a7a0a" stroke-width="1.3"/>
<line x1="944.6" y1="88.0" x2="944.6" y2="115.6" stroke="#dd1111" stroke-width="1.3"/>
<line x1="944.6" y1="128.4" x2="944.6" y2="147.6" stroke="#dd1111" stroke-width="1.3"/>
<rect x="943.0" y="116.2" width="3.1" height="11.5" fill="none" stroke="#dd1111" stroke-width="1.3"/>
<line x1="949.6" y1="47.0" x2="949.6" y2="164.0" stroke="#dd1111" stroke-width="1.3"/>
<rect x="947.4" y="62.0" width="4.4" height="102.0" fill="#dd1111"/>
</g>
<rect x="855.5" y="28.5" width="101.0" height="408.0" fill="none" stroke="#8fb0b8" stroke-width="1"/>
<line x1="957" y1="426.3" x2="959" y2="426.3" stroke="#8fb0b8" stroke-width="0.8"/>
<text x="959.4" y="428.6" font-size="10" textLength="23.8" lengthAdjust="spacingAndGlyphs">4380</text>
<line x1="957" y1="409.7" x2="959" y2="409.7" stroke="#8fb0b8" stroke-width="0.8"/>
<text x="959.4" y="412.0" font-size="10" textLength="23.8" lengthAdjust="spacingAndGlyphs">4390</text>
<line x1="957" y1="393.0" x2="959" y2="393.0" stroke="#8fb0b8" stroke-width="0.8"/>
<text x="959.4" y="395.3" font-size="10" textLength="23.8" lengthAdjust="spacingAndGlyphs">4400</text>
<line x1="957" y1="376.3" x2="959" y2="376.3" stroke="#8fb0b8" stroke-width="0.8"/>
<text x="959.4" y="378.6" font-size="10" textLength="23.8" lengthAdjust="spacingAndGlyphs">4410</text>
<line x1="957" y1="359.7" x2="959" y2="359.7" stroke="#8fb0b8" stroke-width="0.8"/>
<text x="959.4" y="362.0" font-size="10" textLength="23.8" lengthAdjust="spacingAndGlyphs">4420</text>
<line x1="957" y1="343.0" x2="959" y2="343.0" stroke="#8fb0b8" stroke-width="0.8"/>
<text x="959.4" y="345.3" font-size="10" textLength="23.8" lengthAdjust="spacingAndGlyphs">4430</text>
<line x1="957" y1="326.3" x2="959" y2="326.3" stroke="#8fb0b8" stroke-width="0.8"/>
<text x="959.4" y="328.6" font-size="10" textLength="23.8" lengthAdjust="spacingAndGlyphs">4440</text>
<line x1="957" y1="309.7" x2="959" y2="309.7" stroke="#8fb0b8" stroke-width="0.8"/>
<text x="959.4" y="312.0" font-size="10" textLength="23.8" lengthAdjust="spacingAndGlyphs">4450</text>
<line x1="957" y1="293.0" x2="959" y2="293.0" stroke="#8fb0b8" stroke-width="0.8"/>
<text x="959.4" y="295.3" font-size="10" textLength="23.8" lengthAdjust="spacingAndGlyphs">4460</text>
<line x1="957" y1="276.3" x2="959" y2="276.3" stroke="#8fb0b8" stroke-width="0.8"/>
<text x="959.4" y="278.6" font-size="10" textLength="23.8" lengthAdjust="spacingAndGlyphs">4470</text>
<line x1="957" y1="259.6" x2="959" y2="259.6" stroke="#8fb0b8" stroke-width="0.8"/>
<text x="959.4" y="261.9" font-size="10" textLength="23.8" lengthAdjust="spacingAndGlyphs">4480</text>
<line x1="957" y1="243.0" x2="959" y2="243.0" stroke="#8fb0b8" stroke-width="0.8"/>
<text x="959.4" y="245.3" font-size="10" textLength="23.8" lengthAdjust="spacingAndGlyphs">4490</text>
<line x1="957" y1="226.3" x2="959" y2="226.3" stroke="#8fb0b8" stroke-width="0.8"/>
<text x="959.4" y="228.6" font-size="10" textLength="23.8" lengthAdjust="spacingAndGlyphs">4500</text>
<line x1="957" y1="209.6" x2="959" y2="209.6" stroke="#8fb0b8" stroke-width="0.8"/>
<text x="959.4" y="211.9" font-size="10" textLength="23.8" lengthAdjust="spacingAndGlyphs">4510</text>
<line x1="957" y1="193.0" x2="959" y2="193.0" stroke="#8fb0b8" stroke-width="0.8"/>
<text x="959.4" y="195.3" font-size="10" textLength="23.8" lengthAdjust="spacingAndGlyphs">4520</text>
<line x1="957" y1="176.3" x2="959" y2="176.3" stroke="#8fb0b8" stroke-width="0.8"/>
<text x="959.4" y="178.6" font-size="10" textLength="23.8" lengthAdjust="spacingAndGlyphs">4530</text>
<line x1="957" y1="159.6" x2="959" y2="159.6" stroke="#8fb0b8" stroke-width="0.8"/>
<text x="959.4" y="161.9" font-size="10" textLength="23.8" lengthAdjust="spacingAndGlyphs">4540</text>
<line x1="957" y1="142.9" x2="959" y2="142.9" stroke="#8fb0b8" stroke-width="0.8"/>
<text x="959.4" y="145.2" font-size="10" textLength="23.8" lengthAdjust="spacingAndGlyphs">4550</text>
<line x1="957" y1="126.3" x2="959" y2="126.3" stroke="#8fb0b8" stroke-width="0.8"/>
<text x="959.4" y="128.6" font-size="10" textLength="23.8" lengthAdjust="spacingAndGlyphs">4560</text>
<line x1="957" y1="109.6" x2="959" y2="109.6" stroke="#8fb0b8" stroke-width="0.8"/>
<text x="959.4" y="111.9" font-size="10" textLength="23.8" lengthAdjust="spacingAndGlyphs">4570</text>
<line x1="957" y1="92.9" x2="959" y2="92.9" stroke="#8fb0b8" stroke-width="0.8"/>
<text x="959.4" y="95.2" font-size="10" textLength="23.8" lengthAdjust="spacingAndGlyphs">4580</text>
<line x1="957" y1="76.3" x2="959" y2="76.3" stroke="#8fb0b8" stroke-width="0.8"/>
<text x="959.4" y="78.6" font-size="10" textLength="23.8" lengthAdjust="spacingAndGlyphs">4590</text>
<line x1="957" y1="59.6" x2="959" y2="59.6" stroke="#8fb0b8" stroke-width="0.8"/>
<text x="959.4" y="61.9" font-size="10" textLength="23.8" lengthAdjust="spacingAndGlyphs">4600</text>
<line x1="957" y1="42.9" x2="959" y2="42.9" stroke="#8fb0b8" stroke-width="0.8"/>
<text x="959.4" y="45.2" font-size="10" textLength="23.8" lengthAdjust="spacingAndGlyphs">4610</text>
<path d="M955,39.8 L959,34.8 H999.5 V44.8 H959 Z" fill="#e4f6f6" stroke="#a8cccc" stroke-width="0.9"/>
<text x="959.6" y="43.699999999999996" font-size="10.8" textLength="37.6" lengthAdjust="spacingAndGlyphs">4611.30</text>
<path d="M955,237.3 L959,232.3 H999.5 V242.3 H959 Z" fill="#e4f6f6" stroke="#a8cccc" stroke-width="0.9"/>
<text x="959.6" y="241.20000000000002" font-size="10.8" textLength="37.6" lengthAdjust="spacingAndGlyphs">4491.88</text>
<path d="M955,345 L959,340 H999.5 V350 H959 Z" fill="#e4f6f6" stroke="#8833dd" stroke-width="0.9"/>
<text x="959.6" y="348.9" font-size="10.8" textLength="37.6" lengthAdjust="spacingAndGlyphs">2423122</text>
<path d="M955,353.2 L959,348.2 H999.5 V358.2 H959 Z" fill="#e4f6f6" stroke="#000" stroke-width="0.9"/>
<text x="959.6" y="357.09999999999997" font-size="10.8" textLength="37.6" lengthAdjust="spacingAndGlyphs">2272293</text>
<path d="M955,150.6 L959,145.6 H999.5 V155.6 H959 Z" fill="#e4f6f6" stroke="#ff00ff" stroke-width="1.3"/>
<text x="959.6" y="154.5" font-size="10.8" textLength="37.6" lengthAdjust="spacingAndGlyphs">4544.69</text>
<path d="M955,163 L959,158 H999.5 V168 H959 Z" fill="#e4f6f6" stroke="#000" stroke-width="1.3"/>
<text x="959.6" y="166.9" font-size="10.8" font-weight="bold" textLength="37.6" lengthAdjust="spacingAndGlyphs">4537.95</text>
<path d="M955,417.2 L959,412.2 H999.5 V422.2 H959 Z" fill="#e4f6f6" stroke="#dd0000" stroke-width="1.3"/>
<text x="959.6" y="421.09999999999997" font-size="10.8" textLength="37.6" lengthAdjust="spacingAndGlyphs">4383.99</text>
<text x="864.5" y="446.8" font-size="10.5" font-weight="bold" text-anchor="middle" textLength="15" lengthAdjust="spacingAndGlyphs">Jul</text>
<text x="883.4" y="446.8" font-size="10" text-anchor="middle" textLength="10.8" lengthAdjust="spacingAndGlyphs">10</text>
<text x="908.4" y="446.8" font-size="10" text-anchor="middle" textLength="10.8" lengthAdjust="spacingAndGlyphs">17</text>
<text x="933.7" y="446.8" font-size="10" text-anchor="middle" textLength="11.5" lengthAdjust="spacingAndGlyphs">24</text>
<text x="864.5" y="645.2" font-size="10.5" font-weight="bold" text-anchor="middle" textLength="15" lengthAdjust="spacingAndGlyphs">Jul</text>
<text x="883.4" y="645.2" font-size="10" text-anchor="middle" textLength="10.8" lengthAdjust="spacingAndGlyphs">10</text>
<text x="908.4" y="645.2" font-size="10" text-anchor="middle" textLength="10.8" lengthAdjust="spacingAndGlyphs">17</text>
<text x="933.7" y="645.2" font-size="10" text-anchor="middle" textLength="11.5" lengthAdjust="spacingAndGlyphs">24</text>
<path d="M859.6,436.5 v2.2 M864.6,436.5 v2.2 M869.6,436.5 v2.2 M874.6,436.5 v2.2 M879.6,436.5 v2.2 M884.6,436.5 v2.2 M889.6,436.5 v2.2 M894.6,436.5 v2.2 M899.6,436.5 v2.2 M904.6,436.5 v2.2 M909.6,436.5 v2.2 M914.6,436.5 v2.2 M919.6,436.5 v2.2 M924.6,436.5 v2.2 M929.6,436.5 v2.2 M934.6,436.5 v2.2 M939.6,436.5 v2.2 M944.6,436.5 v2.2 M949.6,436.5 v2.2 M954.6,436.5 v2.2" stroke="#8fb0b8" stroke-width="0.8"/>
<path d="M859.6,448.3 v2.2 M864.6,448.3 v2.2 M869.6,448.3 v2.2 M874.6,448.3 v2.2 M879.6,448.3 v2.2 M884.6,448.3 v2.2 M889.6,448.3 v2.2 M894.6,448.3 v2.2 M899.6,448.3 v2.2 M904.6,448.3 v2.2 M909.6,448.3 v2.2 M914.6,448.3 v2.2 M919.6,448.3 v2.2 M924.6,448.3 v2.2 M929.6,448.3 v2.2 M934.6,448.3 v2.2 M939.6,448.3 v2.2 M944.6,448.3 v2.2 M949.6,448.3 v2.2 M954.6,448.3 v2.2" stroke="#8fb0b8" stroke-width="0.8"/>
<path d="M859.6,633.5 v2.2 M864.6,633.5 v2.2 M869.6,633.5 v2.2 M874.6,633.5 v2.2 M879.6,633.5 v2.2 M884.6,633.5 v2.2 M889.6,633.5 v2.2 M894.6,633.5 v2.2 M899.6,633.5 v2.2 M904.6,633.5 v2.2 M909.6,633.5 v2.2 M914.6,633.5 v2.2 M919.6,633.5 v2.2 M924.6,633.5 v2.2 M929.6,633.5 v2.2 M934.6,633.5 v2.2 M939.6,633.5 v2.2 M944.6,633.5 v2.2 M949.6,633.5 v2.2 M954.6,633.5 v2.2" stroke="#8fb0b8" stroke-width="0.8"/>
<rect x="32.5" y="450.5" width="774.0" height="143" fill="#f0dcb4"/>
<line x1="32.5" y1="587.6" x2="806.5" y2="587.6" stroke="#7f9f7f" stroke-opacity="0.3"/>
<line x1="32.5" y1="574.6" x2="806.5" y2="574.6" stroke="#7f9f7f" stroke-opacity="0.3"/>
<line x1="32.5" y1="561.6" x2="806.5" y2="561.6" stroke="#7f9f7f" stroke-opacity="0.3"/>
<line x1="32.5" y1="548.6" x2="806.5" y2="548.6" stroke="#7f9f7f" stroke-opacity="0.3"/>
<line x1="32.5" y1="535.6" x2="806.5" y2="535.6" stroke="#7f9f7f" stroke-opacity="0.3"/>
<line x1="32.5" y1="522.6" x2="806.5" y2="522.6" stroke="#7f9f7f" stroke-opacity="0.3"/>
<line x1="32.5" y1="509.6" x2="806.5" y2="509.6" stroke="#7f9f7f" stroke-opacity="0.3"/>
<line x1="32.5" y1="496.6" x2="806.5" y2="496.6" stroke="#7f9f7f" stroke-opacity="0.3"/>
<line x1="32.5" y1="483.6" x2="806.5" y2="483.6" stroke="#7f9f7f" stroke-opacity="0.3"/>
<line x1="32.5" y1="470.6" x2="806.5" y2="470.6" stroke="#7f9f7f" stroke-opacity="0.3"/>
<line x1="32.5" y1="457.6" x2="806.5" y2="457.6" stroke="#7f9f7f" stroke-opacity="0.3"/>
<rect x="855.5" y="450.5" width="101.0" height="143" fill="#f0dcb4"/>
<line x1="855.5" y1="587.6" x2="956.5" y2="587.6" stroke="#7f9f7f" stroke-opacity="0.3"/>
<line x1="855.5" y1="574.6" x2="956.5" y2="574.6" stroke="#7f9f7f" stroke-opacity="0.3"/>
<line x1="855.5" y1="561.6" x2="956.5" y2="561.6" stroke="#7f9f7f" stroke-opacity="0.3"/>
<line x1="855.5" y1="548.6" x2="956.5" y2="548.6" stroke="#7f9f7f" stroke-opacity="0.3"/>
<line x1="855.5" y1="535.6" x2="956.5" y2="535.6" stroke="#7f9f7f" stroke-opacity="0.3"/>
<line x1="855.5" y1="522.6" x2="956.5" y2="522.6" stroke="#7f9f7f" stroke-opacity="0.3"/>
<line x1="855.5" y1="509.6" x2="956.5" y2="509.6" stroke="#7f9f7f" stroke-opacity="0.3"/>
<line x1="855.5" y1="496.6" x2="956.5" y2="496.6" stroke="#7f9f7f" stroke-opacity="0.3"/>
<line x1="855.5" y1="483.6" x2="956.5" y2="483.6" stroke="#7f9f7f" stroke-opacity="0.3"/>
<line x1="855.5" y1="470.6" x2="956.5" y2="470.6" stroke="#7f9f7f" stroke-opacity="0.3"/>
<line x1="855.5" y1="457.6" x2="956.5" y2="457.6" stroke="#7f9f7f" stroke-opacity="0.3"/>
<line x1="40.9" y1="450.5" x2="40.9" y2="593.5" stroke="#7f9f7f" stroke-opacity="0.26"/>
<line x1="69.4" y1="450.5" x2="69.4" y2="593.5" stroke="#7f9f7f" stroke-opacity="0.26"/>
<line x1="97.9" y1="450.5" x2="97.9" y2="593.5" stroke="#7f9f7f" stroke-opacity="0.26"/>
<line x1="126.4" y1="450.5" x2="126.4" y2="593.5" stroke="#7f9f7f" stroke-opacity="0.26"/>
<line x1="149.3" y1="450.5" x2="149.3" y2="593.5" stroke="#7f9f7f" stroke-opacity="0.26"/>
<line x1="177.8" y1="450.5" x2="177.8" y2="593.5" stroke="#7f9f7f" stroke-opacity="0.26"/>
<line x1="206.3" y1="450.5" x2="206.3" y2="593.5" stroke="#7f9f7f" stroke-opacity="0.26"/>
<line x1="234.8" y1="450.5" x2="234.8" y2="593.5" stroke="#7f9f7f" stroke-opacity="0.26"/>
<line x1="263.3" y1="450.5" x2="263.3" y2="593.5" stroke="#7f9f7f" stroke-opacity="0.26"/>
<line x1="314.6" y1="450.5" x2="314.6" y2="593.5" stroke="#7f9f7f" stroke-opacity="0.26"/>
<line x1="343.2" y1="450.5" x2="343.2" y2="593.5" stroke="#7f9f7f" stroke-opacity="0.26"/>
<line x1="371.7" y1="450.5" x2="371.7" y2="593.5" stroke="#7f9f7f" stroke-opacity="0.26"/>
<line x1="428.7" y1="450.5" x2="428.7" y2="593.5" stroke="#7f9f7f" stroke-opacity="0.26"/>
<line x1="457.2" y1="450.5" x2="457.2" y2="593.5" stroke="#7f9f7f" stroke-opacity="0.26"/>
<line x1="485.7" y1="450.5" x2="485.7" y2="593.5" stroke="#7f9f7f" stroke-opacity="0.26"/>
<line x1="514.3" y1="450.5" x2="514.3" y2="593.5" stroke="#7f9f7f" stroke-opacity="0.26"/>
<line x1="537.1" y1="450.5" x2="537.1" y2="593.5" stroke="#7f9f7f" stroke-opacity="0.26"/>
<line x1="565.6" y1="450.5" x2="565.6" y2="593.5" stroke="#7f9f7f" stroke-opacity="0.26"/>
<line x1="594.1" y1="450.5" x2="594.1" y2="593.5" stroke="#7f9f7f" stroke-opacity="0.26"/>
<line x1="616.9" y1="450.5" x2="616.9" y2="593.5" stroke="#7f9f7f" stroke-opacity="0.26"/>
<line x1="668.2" y1="450.5" x2="668.2" y2="593.5" stroke="#7f9f7f" stroke-opacity="0.26"/>
<line x1="696.7" y1="450.5" x2="696.7" y2="593.5" stroke="#7f9f7f" stroke-opacity="0.26"/>
<line x1="725.3" y1="450.5" x2="725.3" y2="593.5" stroke="#7f9f7f" stroke-opacity="0.26"/>
<line x1="753.8" y1="450.5" x2="753.8" y2="593.5" stroke="#7f9f7f" stroke-opacity="0.26"/>
<line x1="782.3" y1="450.5" x2="782.3" y2="593.5" stroke="#7f9f7f" stroke-opacity="0.26"/>
<line x1="52.3" y1="450.5" x2="52.3" y2="593.5" stroke="#5f7f5f" stroke-opacity="0.4"/>
<line x1="160.7" y1="450.5" x2="160.7" y2="593.5" stroke="#5f7f5f" stroke-opacity="0.4"/>
<line x1="291.8" y1="450.5" x2="291.8" y2="593.5" stroke="#5f7f5f" stroke-opacity="0.4"/>
<line x1="400.2" y1="450.5" x2="400.2" y2="593.5" stroke="#5f7f5f" stroke-opacity="0.4"/>
<line x1="525.7" y1="450.5" x2="525.7" y2="593.5" stroke="#5f7f5f" stroke-opacity="0.4"/>
<line x1="645.4" y1="450.5" x2="645.4" y2="593.5" stroke="#5f7f5f" stroke-opacity="0.4"/>
<line x1="759.5" y1="450.5" x2="759.5" y2="593.5" stroke="#5f7f5f" stroke-opacity="0.4"/>
<line x1="864.6" y1="450.5" x2="864.6" y2="593.5" stroke="#7f9f7f" stroke-opacity="0.4"/>
<line x1="884.6" y1="450.5" x2="884.6" y2="593.5" stroke="#7f9f7f" stroke-opacity="0.4"/>
<line x1="909.6" y1="450.5" x2="909.6" y2="593.5" stroke="#7f9f7f" stroke-opacity="0.4"/>
<line x1="934.6" y1="450.5" x2="934.6" y2="593.5" stroke="#7f9f7f" stroke-opacity="0.4"/>
<rect x="32.5" y="450.5" width="774.0" height="143" fill="none" stroke="#8fb0b8"/>
<rect x="855.5" y="450.5" width="101.0" height="143" fill="none" stroke="#8fb0b8"/>
<rect x="31.8" y="450.8" width="774.4" height="32.8" fill="#f29c80" fill-opacity="0.88" stroke="#e84848" stroke-width="1.6"/>
<line x1="31" y1="484.0" x2="807" y2="484.0" stroke="#b41a1a" stroke-width="1.8"/>
<rect x="31" y="561.6" width="775.2" height="29.4" fill="#a0d47c" fill-opacity="0.88" stroke="#4cd44c" stroke-width="1.8"/>
<line x1="31" y1="561.4" x2="807" y2="561.4" stroke="#1a9a1a" stroke-width="1.8"/>
<line x1="855.5" y1="483.6" x2="956.5" y2="483.6" stroke="#1a6a1a" stroke-width="1.2"/>
<line x1="855.5" y1="561.6" x2="956.5" y2="561.6" stroke="#1a6a1a" stroke-width="1.2"/>
<line x1="32.5" y1="522.6" x2="806.5" y2="522.6" stroke="#1a6a1a" stroke-width="1.2" stroke-dasharray="6,3,1.5,3"/>
<line x1="855.5" y1="522.6" x2="956.5" y2="522.6" stroke="#1a6a1a" stroke-width="1.2" stroke-dasharray="6,3,1.5,3"/>
<text x="458.5" y="477.3" font-size="31.5" fill="#fff" text-anchor="middle" textLength="154" lengthAdjust="spacingAndGlyphs">RED ZONE</text>
<text x="452" y="585.3" font-size="30.8" fill="#fff" text-anchor="middle" textLength="197" lengthAdjust="spacingAndGlyphs">GREEN ZONE</text>
<polyline points="33,472.2 35.2,472.2 40.9,486.8 46.6,491.8 52.3,494.8 58.0,476.8 63.7,484.8 69.4,497.8 75.1,509.8 80.8,521.8 86.5,537.8 92.2,559.8 97.9,541.8 103.6,519.8 109.3,489.4 115.0,502.8 120.7,527.8 126.4,561.8 132.2,570.8 137.9,571.8 143.6,564.8 149.3,553.4 155.0,549.8 160.7,551.8 166.4,541.8 172.1,511.8 177.8,486.2 183.5,493.8 189.2,518.8 194.9,549.8 200.6,562.8 206.3,573.8 212.0,553.8 217.7,537.8 223.4,505.8 229.1,496.8 234.8,476.8 240.5,477.8 246.2,489.8 251.9,513.8 257.6,533.8 263.3,529.8 269.0,523.8 274.7,503.8 280.4,485.8 286.1,462.2 291.8,462.2 297.5,469.8 303.2,485.8 308.9,502.8 314.6,508.8 320.4,507.4 326.1,519.8 331.8,504.8 337.5,500.2 343.2,479.4 348.9,484.8 354.6,481.8 360.3,500.8 366.0,524.8 371.7,541.8 377.4,551.8 383.1,563.8 388.8,541.8 394.5,501.8 400.2,468.2 405.9,483.8 411.6,516.8 417.3,554.8 423.0,549.8 428.7,521.8 434.4,495.8 440.1,486.8 445.8,491.8 451.5,501.8 457.2,512.8 462.9,510.8 468.6,506.8 474.3,497.8 480.0,473.4 485.7,477.8 491.4,505.8 497.1,535.8 502.8,550.8 508.5,523.8 514.3,493.8 520.0,486.8 525.7,488.8 531.4,479.8 537.1,474.2 542.8,474.2 548.5,481.4 554.2,478.2 559.9,489.8 565.6,480.2 571.3,477.8 577.0,468.2 582.7,470.8 588.4,479.8 594.1,495.8 599.8,525.8 605.5,544.8 611.2,559.8 616.9,570.8 622.6,545.8 628.3,515.8 634.0,475.4 639.7,471.8 645.4,463.4 651.1,467.4 656.8,487.8 662.5,521.8 668.2,544.8 673.9,530.8 679.6,503.8 685.3,477.4 691.0,475.4 696.7,470.8 702.5,471.8 708.2,470.8 713.9,491.8 719.6,512.8 725.3,522.8 731.0,510.8 736.7,496.8 742.4,522.6" fill="none" stroke="#000" stroke-width="1.6" stroke-linejoin="round"/>
<g clip-path="url(#cp3)"><polyline points="849.6,515.8 854.6,475.4 859.6,471.8 864.6,463.4 869.6,467.4 874.6,487.8 879.6,521.8 884.6,544.8 889.6,530.8 894.6,503.8 899.6,477.4 904.6,475.4 909.6,470.8 914.6,471.8 919.6,470.8 924.6,491.8 929.6,512.8 934.6,522.8 939.6,510.8 944.6,496.8 949.6,522.6" fill="none" stroke="#000" stroke-width="1.6" stroke-linejoin="round"/></g>
<clipPath id="cp3"><rect x="855.5" y="450.5" width="101" height="143"/></clipPath>
<rect x="33.5" y="452" width="183.5" height="13" fill="#f2a386"/>
<line x1="35" y1="457" x2="43.5" y2="457" x2="43.5" y2="457" stroke="#400000" stroke-width="2.6"/>
<text x="47.3" y="461.8" font-size="10" fill="#2a1010" textLength="169.5" lengthAdjust="spacingAndGlyphs">Slow STO %K(5) %D(1) 49.87,</text>
<rect x="217.5" y="451.8" width="46" height="15.6" fill="none" stroke="#000" stroke-width="1.8"/>
<text x="222" y="462.3" font-size="10" fill="#ff0000" textLength="30" lengthAdjust="spacingAndGlyphs">49.87</text>
<path d="M807,587.6 h2 M957,587.6 h2 M807,581.1 h2 M957,581.1 h2 M807,574.6 h2 M957,574.6 h2 M807,568.1 h2 M957,568.1 h2 M807,561.6 h2 M957,561.6 h2 M807,555.1 h2 M957,555.1 h2 M807,548.6 h2 M957,548.6 h2 M807,542.1 h2 M957,542.1 h2 M807,535.6 h2 M957,535.6 h2 M807,529.1 h2 M957,529.1 h2 M807,522.6 h2 M957,522.6 h2 M807,516.1 h2 M957,516.1 h2 M807,509.6 h2 M957,509.6 h2 M807,503.1 h2 M957,503.1 h2 M807,496.6 h2 M957,496.6 h2 M807,490.1 h2 M957,490.1 h2 M807,483.6 h2 M957,483.6 h2 M807,477.1 h2 M957,477.1 h2 M807,470.6 h2 M957,470.6 h2 M807,464.1 h2 M957,464.1 h2 M807,457.6 h2 M957,457.6 h2" stroke="#8fb0b8" stroke-width="0.8"/>
<line x1="807" y1="483.6" x2="809.5" y2="483.6" stroke="#8fb0b8" stroke-width="0.8"/>
<line x1="957" y1="483.6" x2="959.5" y2="483.6" stroke="#8fb0b8" stroke-width="0.8"/>
<text x="809.5" y="486.8" font-size="10.5" textLength="12" lengthAdjust="spacingAndGlyphs">80</text>
<text x="959.4" y="486.8" font-size="10.5" textLength="12" lengthAdjust="spacingAndGlyphs">80</text>
<line x1="807" y1="522.6" x2="809.5" y2="522.6" stroke="#8fb0b8" stroke-width="0.8"/>
<line x1="957" y1="522.6" x2="959.5" y2="522.6" stroke="#8fb0b8" stroke-width="0.8"/>
<text x="809.5" y="525.8" font-size="10.5" textLength="12" lengthAdjust="spacingAndGlyphs">50</text>
<text x="959.4" y="525.8" font-size="10.5" textLength="12" lengthAdjust="spacingAndGlyphs">50</text>
<line x1="807" y1="561.6" x2="809.5" y2="561.6" stroke="#8fb0b8" stroke-width="0.8"/>
<line x1="957" y1="561.6" x2="959.5" y2="561.6" stroke="#8fb0b8" stroke-width="0.8"/>
<text x="809.5" y="564.8" font-size="10.5" textLength="12" lengthAdjust="spacingAndGlyphs">20</text>
<text x="959.4" y="564.8" font-size="10.5" textLength="12" lengthAdjust="spacingAndGlyphs">20</text>
<path d="M955,522.8 L959,517.8 H987.5 V527.8 H959 Z" fill="#e4f6f6" stroke="#000" stroke-width="0.9"/>
<text x="959.8" y="526.7" font-size="10.8" textLength="26.5" lengthAdjust="spacingAndGlyphs">49.87</text>
<rect x="32.5" y="593.5" width="774.0" height="40.6" fill="#f0d8b8"/>
<line x1="32.5" y1="597.4" x2="806.5" y2="597.4" stroke="#7f9f7f" stroke-opacity="0.3"/>
<line x1="32.5" y1="606" x2="806.5" y2="606" stroke="#7f9f7f" stroke-opacity="0.3"/>
<line x1="32.5" y1="613" x2="806.5" y2="613" stroke="#7f9f7f" stroke-opacity="0.3"/>
<line x1="32.5" y1="620" x2="806.5" y2="620" stroke="#7f9f7f" stroke-opacity="0.3"/>
<line x1="32.5" y1="626" x2="806.5" y2="626" stroke="#7f9f7f" stroke-opacity="0.3"/>
<rect x="855.5" y="593.5" width="101.0" height="40.6" fill="#f0d8b8"/>
<line x1="855.5" y1="597.4" x2="956.5" y2="597.4" stroke="#7f9f7f" stroke-opacity="0.3"/>
<line x1="855.5" y1="606" x2="956.5" y2="606" stroke="#7f9f7f" stroke-opacity="0.3"/>
<line x1="855.5" y1="613" x2="956.5" y2="613" stroke="#7f9f7f" stroke-opacity="0.3"/>
<line x1="855.5" y1="620" x2="956.5" y2="620" stroke="#7f9f7f" stroke-opacity="0.3"/>
<line x1="855.5" y1="626" x2="956.5" y2="626" stroke="#7f9f7f" stroke-opacity="0.3"/>
<line x1="40.9" y1="593.5" x2="40.9" y2="633.5" stroke="#7f9f7f" stroke-opacity="0.26"/>
<line x1="69.4" y1="593.5" x2="69.4" y2="633.5" stroke="#7f9f7f" stroke-opacity="0.26"/>
<line x1="97.9" y1="593.5" x2="97.9" y2="633.5" stroke="#7f9f7f" stroke-opacity="0.26"/>
<line x1="126.4" y1="593.5" x2="126.4" y2="633.5" stroke="#7f9f7f" stroke-opacity="0.26"/>
<line x1="149.3" y1="593.5" x2="149.3" y2="633.5" stroke="#7f9f7f" stroke-opacity="0.26"/>
<line x1="177.8" y1="593.5" x2="177.8" y2="633.5" stroke="#7f9f7f" stroke-opacity="0.26"/>
<line x1="206.3" y1="593.5" x2="206.3" y2="633.5" stroke="#7f9f7f" stroke-opacity="0.26"/>
<line x1="234.8" y1="593.5" x2="234.8" y2="633.5" stroke="#7f9f7f" stroke-opacity="0.26"/>
<line x1="263.3" y1="593.5" x2="263.3" y2="633.5" stroke="#7f9f7f" stroke-opacity="0.26"/>
<line x1="314.6" y1="593.5" x2="314.6" y2="633.5" stroke="#7f9f7f" stroke-opacity="0.26"/>
<line x1="343.2" y1="593.5" x2="343.2" y2="633.5" stroke="#7f9f7f" stroke-opacity="0.26"/>
<line x1="371.7" y1="593.5" x2="371.7" y2="633.5" stroke="#7f9f7f" stroke-opacity="0.26"/>
<line x1="428.7" y1="593.5" x2="428.7" y2="633.5" stroke="#7f9f7f" stroke-opacity="0.26"/>
<line x1="457.2" y1="593.5" x2="457.2" y2="633.5" stroke="#7f9f7f" stroke-opacity="0.26"/>
<line x1="485.7" y1="593.5" x2="485.7" y2="633.5" stroke="#7f9f7f" stroke-opacity="0.26"/>
<line x1="514.3" y1="593.5" x2="514.3" y2="633.5" stroke="#7f9f7f" stroke-opacity="0.26"/>
<line x1="537.1" y1="593.5" x2="537.1" y2="633.5" stroke="#7f9f7f" stroke-opacity="0.26"/>
<line x1="565.6" y1="593.5" x2="565.6" y2="633.5" stroke="#7f9f7f" stroke-opacity="0.26"/>
<line x1="594.1" y1="593.5" x2="594.1" y2="633.5" stroke="#7f9f7f" stroke-opacity="0.26"/>
<line x1="616.9" y1="593.5" x2="616.9" y2="633.5" stroke="#7f9f7f" stroke-opacity="0.26"/>
<line x1="668.2" y1="593.5" x2="668.2" y2="633.5" stroke="#7f9f7f" stroke-opacity="0.26"/>
<line x1="696.7" y1="593.5" x2="696.7" y2="633.5" stroke="#7f9f7f" stroke-opacity="0.26"/>
<line x1="725.3" y1="593.5" x2="725.3" y2="633.5" stroke="#7f9f7f" stroke-opacity="0.26"/>
<line x1="753.8" y1="593.5" x2="753.8" y2="633.5" stroke="#7f9f7f" stroke-opacity="0.26"/>
<line x1="782.3" y1="593.5" x2="782.3" y2="633.5" stroke="#7f9f7f" stroke-opacity="0.26"/>
<line x1="52.3" y1="593.5" x2="52.3" y2="633.5" stroke="#5f7f5f" stroke-opacity="0.4"/>
<line x1="160.7" y1="593.5" x2="160.7" y2="633.5" stroke="#5f7f5f" stroke-opacity="0.4"/>
<line x1="291.8" y1="593.5" x2="291.8" y2="633.5" stroke="#5f7f5f" stroke-opacity="0.4"/>
<line x1="400.2" y1="593.5" x2="400.2" y2="633.5" stroke="#5f7f5f" stroke-opacity="0.4"/>
<line x1="525.7" y1="593.5" x2="525.7" y2="633.5" stroke="#5f7f5f" stroke-opacity="0.4"/>
<line x1="645.4" y1="593.5" x2="645.4" y2="633.5" stroke="#5f7f5f" stroke-opacity="0.4"/>
<line x1="759.5" y1="593.5" x2="759.5" y2="633.5" stroke="#5f7f5f" stroke-opacity="0.4"/>
<line x1="864.6" y1="593.5" x2="864.6" y2="633.5" stroke="#7f9f7f" stroke-opacity="0.4"/>
<line x1="884.6" y1="593.5" x2="884.6" y2="633.5" stroke="#7f9f7f" stroke-opacity="0.4"/>
<line x1="909.6" y1="593.5" x2="909.6" y2="633.5" stroke="#7f9f7f" stroke-opacity="0.4"/>
<line x1="934.6" y1="593.5" x2="934.6" y2="633.5" stroke="#7f9f7f" stroke-opacity="0.4"/>
<rect x="32.5" y="593.5" width="774.0" height="40.6" fill="none" stroke="#8fb0b8"/>
<rect x="855.5" y="593.5" width="101.0" height="40.6" fill="none" stroke="#8fb0b8"/>
<rect x="33.5" y="595.5" width="113" height="10.5" fill="#f0d8b8"/>
<rect x="33.5" y="606" width="80" height="10.5" fill="#f0d8b8"/>
<line x1="35" y1="600.5" x2="44" y2="600.5" stroke="#000" stroke-width="2"/>
<text x="47.6" y="604.2" font-size="9.8" textLength="98.4" lengthAdjust="spacingAndGlyphs">SCTR-$SPX undef</text>
<line x1="35" y1="611.5" x2="44" y2="611.5" stroke="#1a1a8a" stroke-width="2"/>
<text x="45.6" y="615.4" font-size="9.8" fill="#1a1a8a" textLength="67.4" lengthAdjust="spacingAndGlyphs">MA(155) undef</text>
<text x="809.6" y="606.5" font-size="10" textLength="12" lengthAdjust="spacingAndGlyphs">90</text>
<text x="959.4" y="606.5" font-size="10" textLength="12" lengthAdjust="spacingAndGlyphs">90</text>
<path d="M807,603 h2 M957,603 h2" stroke="#8fb0b8" stroke-width="0.8"/>
<text x="809.6" y="612.0" font-size="10" textLength="12" lengthAdjust="spacingAndGlyphs">70</text>
<text x="959.4" y="612.0" font-size="10" textLength="12" lengthAdjust="spacingAndGlyphs">70</text>
<path d="M807,608.5 h2 M957,608.5 h2" stroke="#8fb0b8" stroke-width="0.8"/>
<text x="809.6" y="617.0" font-size="10" textLength="12" lengthAdjust="spacingAndGlyphs">50</text>
<text x="959.4" y="617.0" font-size="10" textLength="12" lengthAdjust="spacingAndGlyphs">50</text>
<path d="M807,613.5 h2 M957,613.5 h2" stroke="#8fb0b8" stroke-width="0.8"/>
<text x="809.6" y="622.5" font-size="10" textLength="12" lengthAdjust="spacingAndGlyphs">30</text>
<text x="959.4" y="622.5" font-size="10" textLength="12" lengthAdjust="spacingAndGlyphs">30</text>
<path d="M807,619 h2 M957,619 h2" stroke="#8fb0b8" stroke-width="0.8"/>
<text x="809.6" y="628.0" font-size="10" textLength="12" lengthAdjust="spacingAndGlyphs">10</text>
<text x="959.4" y="628.0" font-size="10" textLength="12" lengthAdjust="spacingAndGlyphs">10</text>
<path d="M807,624.5 h2 M957,624.5 h2" stroke="#8fb0b8" stroke-width="0.8"/>
<rect x="222.5" y="117.5" width="246" height="34" fill="#808080" opacity="0.5"/>
<rect x="220.5" y="115.5" width="246" height="33.5" fill="#fff" stroke="#888"/>
<text x="224.6" y="140" font-size="22" font-weight="bold" textLength="213.2" lengthAdjust="spacingAndGlyphs">The S&amp;P 500 Index</text>
<rect x="394.5" y="509.5" width="134" height="28.5" fill="#808080" opacity="0.5"/>
<polygon points="277,463.5 399,509 393,516" fill="#808080" opacity="0.5"/>
<rect x="392.5" y="507.5" width="134" height="28.5" fill="#fff" stroke="#888"/>
<polygon points="276,462 398,507.5 392.5,514" fill="#fff" stroke="#888"/>
<rect x="393" y="508" width="6" height="6.5" fill="#fff"/>
<text x="395.7" y="528.7" font-size="19" font-weight="bold" textLength="116.3" lengthAdjust="spacingAndGlyphs">Money Wave</text>
<rect x="45.5" y="497.5" width="105" height="24.5" fill="#808080" opacity="0.5"/>
<rect x="43.5" y="495.5" width="105" height="24.5" fill="#fff" stroke="#888"/>
<polygon points="-1,492 44,495.5 44,501 -1,498" fill="#fff" stroke="#888"/>
<text x="46" y="512.8" font-size="16.5" textLength="84.4" lengthAdjust="spacingAndGlyphs" stroke="#000" stroke-width="0.45">JUNE LOW</text>
<rect x="205.5" y="595.5" width="423" height="41" fill="#808080" opacity="0.5"/>
<rect x="203.5" y="593.5" width="423" height="41" fill="#fff" stroke="#888"/>
<text x="206.6" y="610.3" font-size="14.5" font-weight="bold" fill="#0000f0" textLength="410" lengthAdjust="spacingAndGlyphs">Justin writes'' These LIVE Trade Alerts are Fabulous! Your</text>
<text x="206.6" y="627.6" font-size="14.5" font-weight="bold" fill="#0000f0" textLength="352.4" lengthAdjust="spacingAndGlyphs">advisory service is really changing for the better!''</text>
</svg></body></html>
